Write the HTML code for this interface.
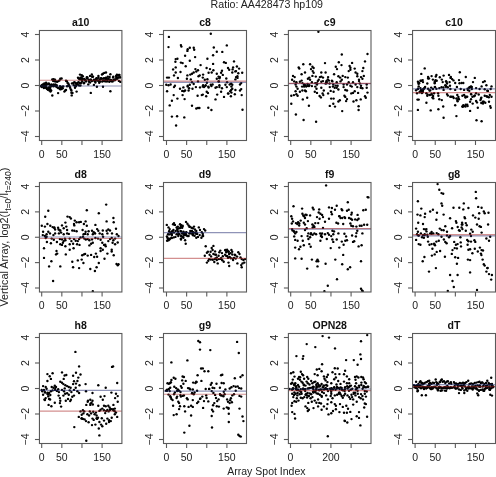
<!DOCTYPE html><html><head><meta charset="utf-8"><style>html,body{margin:0;padding:0;background:#fff;overflow:hidden}svg{display:block;will-change:transform}text{font-family:"Liberation Sans",sans-serif;fill:#222}</style></head><body>
<svg width="496" height="477" viewBox="0 0 496 477">
<rect width="496" height="477" fill="#fff"/>
<text x="266.8" y="7.7" font-size="10.65" text-anchor="middle">Ratio: AA428473 hp109</text>
<text x="266.4" y="474.5" font-size="10.5" text-anchor="middle">Array Spot Index</text>
<text transform="translate(8.2,306.6) rotate(-90)" font-size="10.8">Vertical Array, log2(I<tspan font-size="8.5" dy="3">t=0</tspan><tspan dy="-3">/I</tspan><tspan font-size="8.5" dy="3">t=240</tspan><tspan dy="-3">)</tspan></text>
<text x="80.68" y="25.60" font-size="10.5" font-weight="bold" text-anchor="middle" style="fill:#111">a10</text>
<clipPath id="cp00"><rect x="39.45" y="30.5" width="82.45" height="110.00"/></clipPath><g clip-path="url(#cp00)">
<circle cx="46.1" cy="82.7" r="1.2"/>
<circle cx="44.3" cy="83.5" r="1.2"/>
<circle cx="46.5" cy="83.5" r="1.2"/>
<circle cx="48.8" cy="83.5" r="1.2"/>
<circle cx="42.8" cy="84.4" r="1.2"/>
<circle cx="44.8" cy="84.4" r="1.2"/>
<circle cx="47.0" cy="84.4" r="1.2"/>
<circle cx="49.2" cy="84.4" r="1.2"/>
<circle cx="51.4" cy="84.4" r="1.2"/>
<circle cx="53.6" cy="84.4" r="1.2"/>
<circle cx="55.4" cy="84.4" r="1.2"/>
<circle cx="41.7" cy="85.3" r="1.2"/>
<circle cx="43.7" cy="85.3" r="1.2"/>
<circle cx="45.7" cy="85.3" r="1.2"/>
<circle cx="50.5" cy="85.3" r="1.2"/>
<circle cx="52.7" cy="85.3" r="1.2"/>
<circle cx="55.0" cy="85.3" r="1.2"/>
<circle cx="56.7" cy="85.3" r="1.2"/>
<circle cx="41.0" cy="86.2" r="1.2"/>
<circle cx="43.2" cy="86.2" r="1.2"/>
<circle cx="45.2" cy="86.2" r="1.2"/>
<circle cx="51.4" cy="86.2" r="1.2"/>
<circle cx="53.6" cy="86.2" r="1.2"/>
<circle cx="56.1" cy="86.2" r="1.2"/>
<circle cx="41.9" cy="87.1" r="1.2"/>
<circle cx="44.3" cy="87.1" r="1.2"/>
<circle cx="46.5" cy="87.1" r="1.2"/>
<circle cx="49.2" cy="87.1" r="1.2"/>
<circle cx="56.7" cy="87.1" r="1.2"/>
<circle cx="43.9" cy="88.0" r="1.2"/>
<circle cx="46.1" cy="88.0" r="1.2"/>
<circle cx="48.3" cy="88.0" r="1.2"/>
<circle cx="50.1" cy="88.0" r="1.2"/>
<circle cx="58.1" cy="88.0" r="1.2"/>
<circle cx="60.3" cy="88.0" r="1.2"/>
<circle cx="47.0" cy="88.9" r="1.2"/>
<circle cx="49.6" cy="88.9" r="1.2"/>
<circle cx="59.8" cy="88.9" r="1.2"/>
<circle cx="47.9" cy="89.7" r="1.2"/>
<circle cx="50.5" cy="89.7" r="1.2"/>
<circle cx="49.4" cy="90.6" r="1.2"/>
<circle cx="51.2" cy="90.6" r="1.2"/>
<circle cx="50.5" cy="91.5" r="1.2"/>
<circle cx="52.3" cy="79.5" r="1.2"/>
<circle cx="53.6" cy="79.3" r="1.2"/>
<circle cx="55.0" cy="79.8" r="1.2"/>
<circle cx="53.2" cy="80.9" r="1.2"/>
<circle cx="54.5" cy="81.3" r="1.2"/>
<circle cx="55.9" cy="81.5" r="1.2"/>
<circle cx="57.2" cy="81.8" r="1.2"/>
<circle cx="58.5" cy="81.1" r="1.2"/>
<circle cx="59.4" cy="80.4" r="1.2"/>
<circle cx="60.3" cy="78.7" r="1.2"/>
<circle cx="58.1" cy="93.1" r="1.2"/>
<circle cx="52.3" cy="95.5" r="1.2"/>
<circle cx="61.6" cy="78.5" r="1.2"/>
<circle cx="66.0" cy="80.7" r="1.2"/>
<circle cx="66.8" cy="81.3" r="1.2"/>
<circle cx="67.6" cy="82.9" r="1.2"/>
<circle cx="68.4" cy="83.7" r="1.2"/>
<circle cx="69.0" cy="85.1" r="1.2"/>
<circle cx="68.2" cy="85.6" r="1.2"/>
<circle cx="67.1" cy="86.2" r="1.2"/>
<circle cx="69.5" cy="86.2" r="1.2"/>
<circle cx="70.1" cy="87.8" r="1.2"/>
<circle cx="70.9" cy="89.4" r="1.2"/>
<circle cx="71.4" cy="90.5" r="1.2"/>
<circle cx="65.2" cy="90.5" r="1.2"/>
<circle cx="66.0" cy="90.0" r="1.2"/>
<circle cx="64.4" cy="91.6" r="1.2"/>
<circle cx="71.4" cy="92.7" r="1.2"/>
<circle cx="72.5" cy="93.0" r="1.2"/>
<circle cx="71.7" cy="95.4" r="1.2"/>
<circle cx="76.6" cy="91.6" r="1.2"/>
<circle cx="72.0" cy="83.4" r="1.2"/>
<circle cx="73.4" cy="82.9" r="1.2"/>
<circle cx="74.4" cy="82.1" r="1.2"/>
<circle cx="75.5" cy="82.9" r="1.2"/>
<circle cx="76.3" cy="83.7" r="1.2"/>
<circle cx="77.4" cy="82.9" r="1.2"/>
<circle cx="78.5" cy="82.1" r="1.2"/>
<circle cx="79.6" cy="82.9" r="1.2"/>
<circle cx="80.7" cy="83.4" r="1.2"/>
<circle cx="81.5" cy="82.4" r="1.2"/>
<circle cx="73.6" cy="85.1" r="1.2"/>
<circle cx="74.7" cy="85.6" r="1.2"/>
<circle cx="75.8" cy="86.2" r="1.2"/>
<circle cx="75.0" cy="87.8" r="1.2"/>
<circle cx="76.3" cy="85.1" r="1.2"/>
<circle cx="77.7" cy="84.5" r="1.2"/>
<circle cx="79.1" cy="85.4" r="1.2"/>
<circle cx="80.4" cy="85.6" r="1.2"/>
<circle cx="78.0" cy="77.7" r="1.2"/>
<circle cx="78.8" cy="78.5" r="1.2"/>
<circle cx="79.6" cy="79.4" r="1.2"/>
<circle cx="80.7" cy="79.1" r="1.2"/>
<circle cx="81.5" cy="77.4" r="1.2"/>
<circle cx="81.8" cy="75.3" r="1.2"/>
<circle cx="60.0" cy="86.2" r="1.2"/>
<circle cx="61.1" cy="87.3" r="1.2"/>
<circle cx="62.2" cy="86.7" r="1.2"/>
<circle cx="63.3" cy="86.4" r="1.2"/>
<circle cx="60.5" cy="89.4" r="1.2"/>
<circle cx="61.6" cy="88.9" r="1.2"/>
<circle cx="62.7" cy="88.3" r="1.2"/>
<circle cx="80.0" cy="74.6" r="1.2"/>
<circle cx="80.4" cy="77.7" r="1.2"/>
<circle cx="80.9" cy="78.4" r="1.2"/>
<circle cx="81.3" cy="78.9" r="1.2"/>
<circle cx="81.8" cy="80.0" r="1.2"/>
<circle cx="82.1" cy="78.7" r="1.2"/>
<circle cx="82.3" cy="81.1" r="1.2"/>
<circle cx="82.8" cy="76.2" r="1.2"/>
<circle cx="83.9" cy="83.2" r="1.2"/>
<circle cx="84.1" cy="78.9" r="1.2"/>
<circle cx="84.2" cy="82.7" r="1.2"/>
<circle cx="84.6" cy="80.0" r="1.2"/>
<circle cx="85.1" cy="79.7" r="1.2"/>
<circle cx="85.7" cy="80.3" r="1.2"/>
<circle cx="86.2" cy="81.4" r="1.2"/>
<circle cx="86.8" cy="77.3" r="1.2"/>
<circle cx="87.1" cy="78.3" r="1.2"/>
<circle cx="87.4" cy="77.4" r="1.2"/>
<circle cx="88.3" cy="84.4" r="1.2"/>
<circle cx="88.6" cy="79.6" r="1.2"/>
<circle cx="88.8" cy="80.0" r="1.2"/>
<circle cx="89.0" cy="81.7" r="1.2"/>
<circle cx="90.0" cy="75.9" r="1.2"/>
<circle cx="90.1" cy="82.5" r="1.2"/>
<circle cx="90.9" cy="79.8" r="1.2"/>
<circle cx="90.8" cy="79.6" r="1.2"/>
<circle cx="91.8" cy="74.5" r="1.2"/>
<circle cx="91.9" cy="81.0" r="1.2"/>
<circle cx="92.1" cy="76.8" r="1.2"/>
<circle cx="92.7" cy="76.7" r="1.2"/>
<circle cx="93.0" cy="76.6" r="1.2"/>
<circle cx="93.9" cy="84.9" r="1.2"/>
<circle cx="93.9" cy="79.7" r="1.2"/>
<circle cx="94.3" cy="80.8" r="1.2"/>
<circle cx="95.3" cy="81.1" r="1.2"/>
<circle cx="95.4" cy="82.5" r="1.2"/>
<circle cx="95.7" cy="79.5" r="1.2"/>
<circle cx="96.5" cy="78.4" r="1.2"/>
<circle cx="96.6" cy="78.2" r="1.2"/>
<circle cx="97.1" cy="80.5" r="1.2"/>
<circle cx="98.0" cy="80.4" r="1.2"/>
<circle cx="98.5" cy="77.7" r="1.2"/>
<circle cx="98.4" cy="76.0" r="1.2"/>
<circle cx="99.2" cy="82.7" r="1.2"/>
<circle cx="99.3" cy="81.4" r="1.2"/>
<circle cx="99.8" cy="79.6" r="1.2"/>
<circle cx="100.6" cy="78.7" r="1.2"/>
<circle cx="100.6" cy="81.5" r="1.2"/>
<circle cx="101.0" cy="78.1" r="1.2"/>
<circle cx="101.8" cy="78.8" r="1.2"/>
<circle cx="102.0" cy="74.5" r="1.2"/>
<circle cx="102.5" cy="81.5" r="1.2"/>
<circle cx="103.1" cy="80.7" r="1.2"/>
<circle cx="103.2" cy="78.6" r="1.2"/>
<circle cx="104.2" cy="80.5" r="1.2"/>
<circle cx="104.1" cy="78.1" r="1.2"/>
<circle cx="105.0" cy="81.2" r="1.2"/>
<circle cx="105.6" cy="79.1" r="1.2"/>
<circle cx="105.9" cy="77.7" r="1.2"/>
<circle cx="105.8" cy="78.1" r="1.2"/>
<circle cx="106.3" cy="81.4" r="1.2"/>
<circle cx="107.1" cy="79.3" r="1.2"/>
<circle cx="107.3" cy="81.2" r="1.2"/>
<circle cx="107.8" cy="76.8" r="1.2"/>
<circle cx="108.1" cy="79.5" r="1.2"/>
<circle cx="108.6" cy="78.8" r="1.2"/>
<circle cx="109.3" cy="81.7" r="1.2"/>
<circle cx="109.6" cy="77.0" r="1.2"/>
<circle cx="110.4" cy="79.8" r="1.2"/>
<circle cx="110.4" cy="80.1" r="1.2"/>
<circle cx="111.0" cy="81.1" r="1.2"/>
<circle cx="111.4" cy="80.2" r="1.2"/>
<circle cx="111.9" cy="81.3" r="1.2"/>
<circle cx="112.6" cy="81.4" r="1.2"/>
<circle cx="113.1" cy="77.6" r="1.2"/>
<circle cx="113.3" cy="76.6" r="1.2"/>
<circle cx="113.4" cy="80.1" r="1.2"/>
<circle cx="114.4" cy="79.8" r="1.2"/>
<circle cx="114.7" cy="80.2" r="1.2"/>
<circle cx="115.1" cy="79.6" r="1.2"/>
<circle cx="115.5" cy="79.4" r="1.2"/>
<circle cx="116.3" cy="77.6" r="1.2"/>
<circle cx="116.1" cy="75.9" r="1.2"/>
<circle cx="117.0" cy="78.6" r="1.2"/>
<circle cx="117.4" cy="78.5" r="1.2"/>
<circle cx="118.0" cy="75.5" r="1.2"/>
<circle cx="118.0" cy="77.6" r="1.2"/>
<circle cx="118.8" cy="74.9" r="1.2"/>
<circle cx="118.9" cy="80.9" r="1.2"/>
<circle cx="119.5" cy="75.0" r="1.2"/>
<circle cx="120.0" cy="77.4" r="1.2"/>
<circle cx="120.4" cy="81.9" r="1.2"/>
<circle cx="96.9" cy="86.8" r="1.2"/>
<circle cx="103.0" cy="86.8" r="1.2"/>
<circle cx="90.8" cy="92.9" r="1.2"/>
<circle cx="110.4" cy="91.2" r="1.2"/>
<circle cx="106.0" cy="72.5" r="1.2"/>
<circle cx="104.3" cy="72.9" r="1.2"/>
<circle cx="103.0" cy="73.8" r="1.2"/>
<circle cx="110.4" cy="74.2" r="1.2"/>
<circle cx="116.9" cy="74.7" r="1.2"/>
<circle cx="118.2" cy="75.5" r="1.2"/>
<circle cx="119.9" cy="77.3" r="1.2"/>
<line x1="39.45" x2="121.9" y1="86.01" y2="86.01" stroke="#202870" stroke-opacity="0.5" stroke-width="1.2"/>
<line x1="39.45" x2="121.9" y1="80.27" y2="80.27" stroke="#a82020" stroke-opacity="0.5" stroke-width="1.2"/>
</g>
<rect x="39.45" y="30.5" width="82.45" height="110.00" fill="none" stroke="#5a5a5a" stroke-width="1.1"/>
<line x1="34.95" x2="39.45" y1="34.50" y2="34.50" stroke="#5a5a5a" stroke-width="1.1"/>
<text transform="translate(28.85,34.50) rotate(-90)" font-size="10.5" text-anchor="middle">4</text>
<line x1="34.95" x2="39.45" y1="60.00" y2="60.00" stroke="#5a5a5a" stroke-width="1.1"/>
<text transform="translate(28.85,60.00) rotate(-90)" font-size="10.5" text-anchor="middle">2</text>
<line x1="34.95" x2="39.45" y1="85.50" y2="85.50" stroke="#5a5a5a" stroke-width="1.1"/>
<text transform="translate(28.85,85.50) rotate(-90)" font-size="10.5" text-anchor="middle">0</text>
<line x1="34.95" x2="39.45" y1="111.00" y2="111.00" stroke="#5a5a5a" stroke-width="1.1"/>
<text transform="translate(28.85,111.00) rotate(-90)" font-size="10.5" text-anchor="middle">−2</text>
<line x1="34.95" x2="39.45" y1="136.50" y2="136.50" stroke="#5a5a5a" stroke-width="1.1"/>
<text transform="translate(28.85,136.50) rotate(-90)" font-size="10.5" text-anchor="middle">−4</text>
<line x1="41.70" x2="41.70" y1="140.5" y2="145.00" stroke="#5a5a5a" stroke-width="1.1"/>
<text x="41.70" y="157.70" font-size="10.5" text-anchor="middle">0</text>
<line x1="61.83" x2="61.83" y1="140.5" y2="145.00" stroke="#5a5a5a" stroke-width="1.1"/>
<text x="61.83" y="157.70" font-size="10.5" text-anchor="middle">50</text>
<line x1="81.96" x2="81.96" y1="140.5" y2="145.00" stroke="#5a5a5a" stroke-width="1.1"/>
<line x1="102.09" x2="102.09" y1="140.5" y2="145.00" stroke="#5a5a5a" stroke-width="1.1"/>
<text x="102.09" y="157.70" font-size="10.5" text-anchor="middle">150</text>
<text x="205.00" y="25.60" font-size="10.5" font-weight="bold" text-anchor="middle" style="fill:#111">c8</text>
<clipPath id="cp01"><rect x="163.5" y="30.5" width="83.00" height="110.00"/></clipPath><g clip-path="url(#cp01)">
<circle cx="168.9" cy="36.9" r="1.2"/>
<circle cx="210.8" cy="33.8" r="1.2"/>
<circle cx="168.5" cy="47.1" r="1.2"/>
<circle cx="180.9" cy="45.1" r="1.2"/>
<circle cx="181.4" cy="46.6" r="1.2"/>
<circle cx="187.7" cy="49.2" r="1.2"/>
<circle cx="187.4" cy="50.9" r="1.2"/>
<circle cx="189.8" cy="47.7" r="1.2"/>
<circle cx="193.7" cy="47.7" r="1.2"/>
<circle cx="194.2" cy="49.7" r="1.2"/>
<circle cx="213.8" cy="47.5" r="1.2"/>
<circle cx="226.8" cy="45.4" r="1.2"/>
<circle cx="216.8" cy="51.8" r="1.2"/>
<circle cx="222.3" cy="51.9" r="1.2"/>
<circle cx="213.1" cy="55.2" r="1.2"/>
<circle cx="185.1" cy="55.7" r="1.2"/>
<circle cx="177.4" cy="58.8" r="1.2"/>
<circle cx="175.7" cy="59.1" r="1.2"/>
<circle cx="195.1" cy="57.1" r="1.2"/>
<circle cx="189.8" cy="60.8" r="1.2"/>
<circle cx="207.4" cy="58.8" r="1.2"/>
<circle cx="175.4" cy="61.7" r="1.2"/>
<circle cx="180.9" cy="62.6" r="1.2"/>
<circle cx="182.6" cy="63.1" r="1.2"/>
<circle cx="200.6" cy="65.1" r="1.2"/>
<circle cx="213.1" cy="63.9" r="1.2"/>
<circle cx="224.0" cy="62.2" r="1.2"/>
<circle cx="225.8" cy="62.9" r="1.2"/>
<circle cx="234.0" cy="61.4" r="1.2"/>
<circle cx="185.7" cy="66.3" r="1.2"/>
<circle cx="173.1" cy="69.4" r="1.2"/>
<circle cx="175.7" cy="67.4" r="1.2"/>
<circle cx="206.6" cy="68.0" r="1.2"/>
<circle cx="195.4" cy="69.1" r="1.2"/>
<circle cx="198.0" cy="70.3" r="1.2"/>
<circle cx="196.3" cy="71.5" r="1.2"/>
<circle cx="210.0" cy="69.1" r="1.2"/>
<circle cx="213.4" cy="70.3" r="1.2"/>
<circle cx="222.0" cy="70.8" r="1.2"/>
<circle cx="228.0" cy="68.0" r="1.2"/>
<circle cx="229.2" cy="69.8" r="1.2"/>
<circle cx="233.1" cy="67.4" r="1.2"/>
<circle cx="232.6" cy="69.4" r="1.2"/>
<circle cx="236.9" cy="66.5" r="1.2"/>
<circle cx="239.1" cy="68.6" r="1.2"/>
<circle cx="180.5" cy="72.0" r="1.2"/>
<circle cx="175.7" cy="72.5" r="1.2"/>
<circle cx="193.7" cy="72.5" r="1.2"/>
<circle cx="192.0" cy="73.7" r="1.2"/>
<circle cx="190.3" cy="74.6" r="1.2"/>
<circle cx="199.7" cy="75.4" r="1.2"/>
<circle cx="203.1" cy="74.6" r="1.2"/>
<circle cx="208.6" cy="72.8" r="1.2"/>
<circle cx="211.7" cy="72.5" r="1.2"/>
<circle cx="216.8" cy="73.7" r="1.2"/>
<circle cx="221.1" cy="72.8" r="1.2"/>
<circle cx="222.8" cy="74.9" r="1.2"/>
<circle cx="218.6" cy="76.6" r="1.2"/>
<circle cx="219.9" cy="77.1" r="1.2"/>
<circle cx="232.3" cy="72.5" r="1.2"/>
<circle cx="236.0" cy="71.1" r="1.2"/>
<circle cx="238.3" cy="73.2" r="1.2"/>
<circle cx="242.2" cy="72.8" r="1.2"/>
<circle cx="174.0" cy="75.4" r="1.2"/>
<circle cx="187.4" cy="75.4" r="1.2"/>
<circle cx="198.5" cy="76.3" r="1.2"/>
<circle cx="202.8" cy="77.6" r="1.2"/>
<circle cx="177.9" cy="78.0" r="1.2"/>
<circle cx="167.1" cy="77.6" r="1.2"/>
<circle cx="168.9" cy="77.6" r="1.2"/>
<circle cx="237.4" cy="76.3" r="1.2"/>
<circle cx="236.0" cy="77.1" r="1.2"/>
<circle cx="186.9" cy="78.8" r="1.2"/>
<circle cx="190.8" cy="79.4" r="1.2"/>
<circle cx="204.8" cy="79.7" r="1.2"/>
<circle cx="207.4" cy="79.2" r="1.2"/>
<circle cx="216.8" cy="78.8" r="1.2"/>
<circle cx="219.4" cy="78.3" r="1.2"/>
<circle cx="226.3" cy="78.5" r="1.2"/>
<circle cx="235.4" cy="79.4" r="1.2"/>
<circle cx="166.3" cy="84.8" r="1.2"/>
<circle cx="168.5" cy="85.2" r="1.2"/>
<circle cx="170.6" cy="84.5" r="1.2"/>
<circle cx="174.9" cy="85.7" r="1.2"/>
<circle cx="187.7" cy="85.7" r="1.2"/>
<circle cx="189.8" cy="84.8" r="1.2"/>
<circle cx="192.0" cy="82.3" r="1.2"/>
<circle cx="193.7" cy="84.0" r="1.2"/>
<circle cx="198.0" cy="81.4" r="1.2"/>
<circle cx="203.1" cy="85.2" r="1.2"/>
<circle cx="205.7" cy="85.2" r="1.2"/>
<circle cx="206.9" cy="82.8" r="1.2"/>
<circle cx="210.8" cy="84.8" r="1.2"/>
<circle cx="212.6" cy="84.5" r="1.2"/>
<circle cx="218.6" cy="81.4" r="1.2"/>
<circle cx="219.4" cy="85.2" r="1.2"/>
<circle cx="225.4" cy="84.8" r="1.2"/>
<circle cx="227.1" cy="82.3" r="1.2"/>
<circle cx="229.7" cy="84.5" r="1.2"/>
<circle cx="232.3" cy="84.8" r="1.2"/>
<circle cx="240.0" cy="84.5" r="1.2"/>
<circle cx="241.2" cy="83.1" r="1.2"/>
<circle cx="167.1" cy="91.2" r="1.2"/>
<circle cx="174.0" cy="87.1" r="1.2"/>
<circle cx="180.0" cy="88.8" r="1.2"/>
<circle cx="182.2" cy="90.9" r="1.2"/>
<circle cx="183.9" cy="91.2" r="1.2"/>
<circle cx="185.1" cy="90.5" r="1.2"/>
<circle cx="183.4" cy="87.4" r="1.2"/>
<circle cx="187.7" cy="86.6" r="1.2"/>
<circle cx="189.1" cy="88.3" r="1.2"/>
<circle cx="188.6" cy="90.5" r="1.2"/>
<circle cx="192.5" cy="88.8" r="1.2"/>
<circle cx="195.9" cy="87.1" r="1.2"/>
<circle cx="200.0" cy="87.4" r="1.2"/>
<circle cx="202.8" cy="86.6" r="1.2"/>
<circle cx="204.0" cy="87.1" r="1.2"/>
<circle cx="205.2" cy="86.1" r="1.2"/>
<circle cx="208.3" cy="86.6" r="1.2"/>
<circle cx="211.4" cy="86.1" r="1.2"/>
<circle cx="215.5" cy="87.8" r="1.2"/>
<circle cx="216.8" cy="87.1" r="1.2"/>
<circle cx="219.4" cy="87.1" r="1.2"/>
<circle cx="222.0" cy="88.3" r="1.2"/>
<circle cx="226.8" cy="87.1" r="1.2"/>
<circle cx="231.4" cy="86.6" r="1.2"/>
<circle cx="232.3" cy="88.8" r="1.2"/>
<circle cx="230.2" cy="91.2" r="1.2"/>
<circle cx="231.4" cy="92.6" r="1.2"/>
<circle cx="235.4" cy="90.0" r="1.2"/>
<circle cx="240.0" cy="90.5" r="1.2"/>
<circle cx="241.2" cy="89.1" r="1.2"/>
<circle cx="173.7" cy="95.1" r="1.2"/>
<circle cx="182.6" cy="95.1" r="1.2"/>
<circle cx="197.6" cy="95.7" r="1.2"/>
<circle cx="201.8" cy="95.1" r="1.2"/>
<circle cx="202.8" cy="94.6" r="1.2"/>
<circle cx="207.9" cy="92.9" r="1.2"/>
<circle cx="206.2" cy="96.3" r="1.2"/>
<circle cx="217.2" cy="94.6" r="1.2"/>
<circle cx="221.1" cy="91.7" r="1.2"/>
<circle cx="224.0" cy="96.9" r="1.2"/>
<circle cx="228.0" cy="93.4" r="1.2"/>
<circle cx="230.9" cy="96.3" r="1.2"/>
<circle cx="234.8" cy="94.3" r="1.2"/>
<circle cx="241.7" cy="95.1" r="1.2"/>
<circle cx="171.9" cy="100.8" r="1.2"/>
<circle cx="177.4" cy="98.6" r="1.2"/>
<circle cx="184.6" cy="99.1" r="1.2"/>
<circle cx="215.5" cy="99.4" r="1.2"/>
<circle cx="169.7" cy="105.4" r="1.2"/>
<circle cx="192.0" cy="105.8" r="1.2"/>
<circle cx="196.3" cy="108.5" r="1.2"/>
<circle cx="198.0" cy="108.0" r="1.2"/>
<circle cx="199.4" cy="108.0" r="1.2"/>
<circle cx="208.3" cy="107.7" r="1.2"/>
<circle cx="211.4" cy="110.0" r="1.2"/>
<circle cx="242.5" cy="109.7" r="1.2"/>
<circle cx="171.9" cy="116.6" r="1.2"/>
<circle cx="177.1" cy="116.2" r="1.2"/>
<circle cx="184.3" cy="117.4" r="1.2"/>
<circle cx="176.1" cy="125.5" r="1.2"/>
<circle cx="218.8" cy="81.5" r="1.2"/>
<circle cx="206.7" cy="91.7" r="1.2"/>
<circle cx="228.4" cy="93.6" r="1.2"/>
<circle cx="208.6" cy="87.5" r="1.2"/>
<circle cx="237.5" cy="77.9" r="1.2"/>
<circle cx="235.3" cy="71.4" r="1.2"/>
<circle cx="231.2" cy="89.9" r="1.2"/>
<circle cx="231.1" cy="83.8" r="1.2"/>
<line x1="163.5" x2="246.5" y1="82.31" y2="82.31" stroke="#202870" stroke-opacity="0.5" stroke-width="1.2"/>
<line x1="163.5" x2="246.5" y1="81.20" y2="81.20" stroke="#a82020" stroke-opacity="0.5" stroke-width="1.2"/>
</g>
<rect x="163.5" y="30.5" width="83.00" height="110.00" fill="none" stroke="#5a5a5a" stroke-width="1.1"/>
<line x1="159.00" x2="163.5" y1="34.50" y2="34.50" stroke="#5a5a5a" stroke-width="1.1"/>
<text transform="translate(152.90,34.50) rotate(-90)" font-size="10.5" text-anchor="middle">4</text>
<line x1="159.00" x2="163.5" y1="60.00" y2="60.00" stroke="#5a5a5a" stroke-width="1.1"/>
<text transform="translate(152.90,60.00) rotate(-90)" font-size="10.5" text-anchor="middle">2</text>
<line x1="159.00" x2="163.5" y1="85.50" y2="85.50" stroke="#5a5a5a" stroke-width="1.1"/>
<text transform="translate(152.90,85.50) rotate(-90)" font-size="10.5" text-anchor="middle">0</text>
<line x1="159.00" x2="163.5" y1="111.00" y2="111.00" stroke="#5a5a5a" stroke-width="1.1"/>
<text transform="translate(152.90,111.00) rotate(-90)" font-size="10.5" text-anchor="middle">−2</text>
<line x1="159.00" x2="163.5" y1="136.50" y2="136.50" stroke="#5a5a5a" stroke-width="1.1"/>
<text transform="translate(152.90,136.50) rotate(-90)" font-size="10.5" text-anchor="middle">−4</text>
<line x1="166.50" x2="166.50" y1="140.5" y2="145.00" stroke="#5a5a5a" stroke-width="1.1"/>
<text x="166.50" y="157.70" font-size="10.5" text-anchor="middle">0</text>
<line x1="186.63" x2="186.63" y1="140.5" y2="145.00" stroke="#5a5a5a" stroke-width="1.1"/>
<text x="186.63" y="157.70" font-size="10.5" text-anchor="middle">50</text>
<line x1="206.76" x2="206.76" y1="140.5" y2="145.00" stroke="#5a5a5a" stroke-width="1.1"/>
<line x1="226.89" x2="226.89" y1="140.5" y2="145.00" stroke="#5a5a5a" stroke-width="1.1"/>
<text x="226.89" y="157.70" font-size="10.5" text-anchor="middle">150</text>
<text x="329.70" y="25.60" font-size="10.5" font-weight="bold" text-anchor="middle" style="fill:#111">c9</text>
<clipPath id="cp02"><rect x="288.4" y="30.5" width="82.60" height="110.00"/></clipPath><g clip-path="url(#cp02)">
<circle cx="318.4" cy="31.7" r="1.2"/>
<circle cx="341.8" cy="54.5" r="1.2"/>
<circle cx="367.5" cy="54.0" r="1.2"/>
<circle cx="365.0" cy="61.4" r="1.2"/>
<circle cx="325.0" cy="63.1" r="1.2"/>
<circle cx="338.8" cy="62.2" r="1.2"/>
<circle cx="341.5" cy="65.1" r="1.2"/>
<circle cx="303.3" cy="64.3" r="1.2"/>
<circle cx="310.1" cy="64.3" r="1.2"/>
<circle cx="298.7" cy="67.4" r="1.2"/>
<circle cx="299.3" cy="68.6" r="1.2"/>
<circle cx="312.4" cy="66.8" r="1.2"/>
<circle cx="311.0" cy="69.1" r="1.2"/>
<circle cx="313.6" cy="68.0" r="1.2"/>
<circle cx="335.8" cy="66.8" r="1.2"/>
<circle cx="337.0" cy="69.1" r="1.2"/>
<circle cx="349.6" cy="66.0" r="1.2"/>
<circle cx="350.4" cy="67.7" r="1.2"/>
<circle cx="352.1" cy="62.9" r="1.2"/>
<circle cx="354.7" cy="68.6" r="1.2"/>
<circle cx="363.3" cy="68.0" r="1.2"/>
<circle cx="312.7" cy="71.1" r="1.2"/>
<circle cx="313.6" cy="72.8" r="1.2"/>
<circle cx="301.6" cy="74.2" r="1.2"/>
<circle cx="305.0" cy="72.5" r="1.2"/>
<circle cx="321.3" cy="72.5" r="1.2"/>
<circle cx="325.6" cy="72.5" r="1.2"/>
<circle cx="334.1" cy="74.2" r="1.2"/>
<circle cx="348.7" cy="71.1" r="1.2"/>
<circle cx="350.4" cy="69.8" r="1.2"/>
<circle cx="355.6" cy="72.5" r="1.2"/>
<circle cx="357.3" cy="73.7" r="1.2"/>
<circle cx="362.4" cy="71.1" r="1.2"/>
<circle cx="293.0" cy="75.9" r="1.2"/>
<circle cx="294.7" cy="77.1" r="1.2"/>
<circle cx="312.4" cy="75.9" r="1.2"/>
<circle cx="315.8" cy="76.6" r="1.2"/>
<circle cx="309.3" cy="77.6" r="1.2"/>
<circle cx="307.9" cy="78.8" r="1.2"/>
<circle cx="310.1" cy="79.7" r="1.2"/>
<circle cx="319.9" cy="77.1" r="1.2"/>
<circle cx="321.3" cy="76.6" r="1.2"/>
<circle cx="323.0" cy="77.6" r="1.2"/>
<circle cx="318.7" cy="79.7" r="1.2"/>
<circle cx="317.8" cy="81.1" r="1.2"/>
<circle cx="328.1" cy="77.1" r="1.2"/>
<circle cx="327.8" cy="79.4" r="1.2"/>
<circle cx="329.0" cy="80.6" r="1.2"/>
<circle cx="338.4" cy="76.3" r="1.2"/>
<circle cx="340.1" cy="77.6" r="1.2"/>
<circle cx="341.8" cy="79.7" r="1.2"/>
<circle cx="342.7" cy="75.9" r="1.2"/>
<circle cx="345.3" cy="77.1" r="1.2"/>
<circle cx="347.8" cy="77.6" r="1.2"/>
<circle cx="357.3" cy="76.3" r="1.2"/>
<circle cx="359.0" cy="79.7" r="1.2"/>
<circle cx="361.0" cy="77.1" r="1.2"/>
<circle cx="363.8" cy="75.9" r="1.2"/>
<circle cx="362.4" cy="78.8" r="1.2"/>
<circle cx="292.1" cy="79.7" r="1.2"/>
<circle cx="294.2" cy="81.4" r="1.2"/>
<circle cx="296.4" cy="82.3" r="1.2"/>
<circle cx="295.6" cy="84.5" r="1.2"/>
<circle cx="301.6" cy="80.6" r="1.2"/>
<circle cx="299.9" cy="81.8" r="1.2"/>
<circle cx="302.4" cy="83.1" r="1.2"/>
<circle cx="304.1" cy="84.5" r="1.2"/>
<circle cx="305.5" cy="85.2" r="1.2"/>
<circle cx="307.6" cy="84.0" r="1.2"/>
<circle cx="309.3" cy="85.2" r="1.2"/>
<circle cx="311.9" cy="82.3" r="1.2"/>
<circle cx="315.3" cy="83.1" r="1.2"/>
<circle cx="317.0" cy="84.5" r="1.2"/>
<circle cx="321.3" cy="81.8" r="1.2"/>
<circle cx="323.0" cy="81.1" r="1.2"/>
<circle cx="326.4" cy="82.3" r="1.2"/>
<circle cx="329.5" cy="83.5" r="1.2"/>
<circle cx="332.4" cy="81.4" r="1.2"/>
<circle cx="333.3" cy="84.5" r="1.2"/>
<circle cx="336.7" cy="82.3" r="1.2"/>
<circle cx="337.6" cy="85.7" r="1.2"/>
<circle cx="340.5" cy="81.4" r="1.2"/>
<circle cx="343.6" cy="84.5" r="1.2"/>
<circle cx="348.7" cy="82.3" r="1.2"/>
<circle cx="347.0" cy="84.5" r="1.2"/>
<circle cx="350.4" cy="85.7" r="1.2"/>
<circle cx="353.0" cy="82.3" r="1.2"/>
<circle cx="355.6" cy="84.5" r="1.2"/>
<circle cx="359.0" cy="81.1" r="1.2"/>
<circle cx="359.8" cy="83.5" r="1.2"/>
<circle cx="361.0" cy="85.7" r="1.2"/>
<circle cx="366.7" cy="84.5" r="1.2"/>
<circle cx="296.4" cy="86.6" r="1.2"/>
<circle cx="297.6" cy="88.8" r="1.2"/>
<circle cx="295.6" cy="91.2" r="1.2"/>
<circle cx="299.9" cy="91.7" r="1.2"/>
<circle cx="302.1" cy="86.6" r="1.2"/>
<circle cx="304.1" cy="86.1" r="1.2"/>
<circle cx="306.2" cy="86.6" r="1.2"/>
<circle cx="302.4" cy="90.5" r="1.2"/>
<circle cx="305.0" cy="90.5" r="1.2"/>
<circle cx="305.9" cy="91.2" r="1.2"/>
<circle cx="308.9" cy="86.1" r="1.2"/>
<circle cx="311.9" cy="86.1" r="1.2"/>
<circle cx="315.3" cy="86.6" r="1.2"/>
<circle cx="316.5" cy="88.8" r="1.2"/>
<circle cx="314.8" cy="91.7" r="1.2"/>
<circle cx="317.0" cy="92.9" r="1.2"/>
<circle cx="321.3" cy="87.8" r="1.2"/>
<circle cx="323.8" cy="90.5" r="1.2"/>
<circle cx="322.6" cy="93.4" r="1.2"/>
<circle cx="323.3" cy="95.1" r="1.2"/>
<circle cx="319.6" cy="96.0" r="1.2"/>
<circle cx="320.9" cy="97.4" r="1.2"/>
<circle cx="328.1" cy="93.4" r="1.2"/>
<circle cx="329.8" cy="87.1" r="1.2"/>
<circle cx="332.9" cy="86.6" r="1.2"/>
<circle cx="330.7" cy="90.9" r="1.2"/>
<circle cx="333.6" cy="91.7" r="1.2"/>
<circle cx="336.7" cy="87.8" r="1.2"/>
<circle cx="338.4" cy="89.5" r="1.2"/>
<circle cx="343.6" cy="87.1" r="1.2"/>
<circle cx="345.3" cy="90.0" r="1.2"/>
<circle cx="347.0" cy="90.5" r="1.2"/>
<circle cx="344.4" cy="95.7" r="1.2"/>
<circle cx="345.3" cy="96.9" r="1.2"/>
<circle cx="351.8" cy="86.6" r="1.2"/>
<circle cx="354.7" cy="91.2" r="1.2"/>
<circle cx="351.3" cy="93.4" r="1.2"/>
<circle cx="353.0" cy="92.9" r="1.2"/>
<circle cx="357.3" cy="87.1" r="1.2"/>
<circle cx="358.1" cy="92.9" r="1.2"/>
<circle cx="360.7" cy="87.8" r="1.2"/>
<circle cx="362.4" cy="88.3" r="1.2"/>
<circle cx="366.7" cy="87.8" r="1.2"/>
<circle cx="367.5" cy="92.6" r="1.2"/>
<circle cx="291.3" cy="95.7" r="1.2"/>
<circle cx="293.9" cy="95.1" r="1.2"/>
<circle cx="297.6" cy="95.7" r="1.2"/>
<circle cx="296.4" cy="94.3" r="1.2"/>
<circle cx="302.8" cy="99.4" r="1.2"/>
<circle cx="307.2" cy="97.7" r="1.2"/>
<circle cx="331.2" cy="98.6" r="1.2"/>
<circle cx="333.6" cy="98.6" r="1.2"/>
<circle cx="339.8" cy="100.3" r="1.2"/>
<circle cx="338.4" cy="101.5" r="1.2"/>
<circle cx="347.0" cy="99.1" r="1.2"/>
<circle cx="346.1" cy="101.1" r="1.2"/>
<circle cx="353.5" cy="101.5" r="1.2"/>
<circle cx="356.4" cy="100.3" r="1.2"/>
<circle cx="360.7" cy="99.4" r="1.2"/>
<circle cx="365.0" cy="96.3" r="1.2"/>
<circle cx="365.8" cy="97.7" r="1.2"/>
<circle cx="291.3" cy="103.7" r="1.2"/>
<circle cx="308.9" cy="105.8" r="1.2"/>
<circle cx="329.8" cy="105.9" r="1.2"/>
<circle cx="333.3" cy="103.7" r="1.2"/>
<circle cx="335.0" cy="106.6" r="1.2"/>
<circle cx="342.2" cy="111.1" r="1.2"/>
<circle cx="358.6" cy="106.3" r="1.2"/>
<circle cx="358.6" cy="110.0" r="1.2"/>
<circle cx="295.9" cy="114.5" r="1.2"/>
<circle cx="303.6" cy="120.0" r="1.2"/>
<circle cx="316.1" cy="121.7" r="1.2"/>
<circle cx="334.7" cy="87.8" r="1.2"/>
<circle cx="317.0" cy="83.3" r="1.2"/>
<circle cx="331.9" cy="80.7" r="1.2"/>
<circle cx="326.5" cy="80.9" r="1.2"/>
<circle cx="325.5" cy="83.6" r="1.2"/>
<circle cx="326.6" cy="81.7" r="1.2"/>
<circle cx="326.4" cy="83.3" r="1.2"/>
<circle cx="304.1" cy="86.5" r="1.2"/>
<circle cx="307.7" cy="85.9" r="1.2"/>
<circle cx="335.7" cy="85.6" r="1.2"/>
<line x1="288.4" x2="371.0" y1="83.59" y2="83.59" stroke="#202870" stroke-opacity="0.5" stroke-width="1.2"/>
<line x1="288.4" x2="371.0" y1="83.33" y2="83.33" stroke="#a82020" stroke-opacity="0.5" stroke-width="1.2"/>
</g>
<rect x="288.4" y="30.5" width="82.60" height="110.00" fill="none" stroke="#5a5a5a" stroke-width="1.1"/>
<line x1="283.90" x2="288.4" y1="34.50" y2="34.50" stroke="#5a5a5a" stroke-width="1.1"/>
<text transform="translate(277.80,34.50) rotate(-90)" font-size="10.5" text-anchor="middle">4</text>
<line x1="283.90" x2="288.4" y1="60.00" y2="60.00" stroke="#5a5a5a" stroke-width="1.1"/>
<text transform="translate(277.80,60.00) rotate(-90)" font-size="10.5" text-anchor="middle">2</text>
<line x1="283.90" x2="288.4" y1="85.50" y2="85.50" stroke="#5a5a5a" stroke-width="1.1"/>
<text transform="translate(277.80,85.50) rotate(-90)" font-size="10.5" text-anchor="middle">0</text>
<line x1="283.90" x2="288.4" y1="111.00" y2="111.00" stroke="#5a5a5a" stroke-width="1.1"/>
<text transform="translate(277.80,111.00) rotate(-90)" font-size="10.5" text-anchor="middle">−2</text>
<line x1="283.90" x2="288.4" y1="136.50" y2="136.50" stroke="#5a5a5a" stroke-width="1.1"/>
<text transform="translate(277.80,136.50) rotate(-90)" font-size="10.5" text-anchor="middle">−4</text>
<line x1="290.70" x2="290.70" y1="140.5" y2="145.00" stroke="#5a5a5a" stroke-width="1.1"/>
<text x="290.70" y="157.70" font-size="10.5" text-anchor="middle">0</text>
<line x1="310.83" x2="310.83" y1="140.5" y2="145.00" stroke="#5a5a5a" stroke-width="1.1"/>
<text x="310.83" y="157.70" font-size="10.5" text-anchor="middle">50</text>
<line x1="330.96" x2="330.96" y1="140.5" y2="145.00" stroke="#5a5a5a" stroke-width="1.1"/>
<line x1="351.09" x2="351.09" y1="140.5" y2="145.00" stroke="#5a5a5a" stroke-width="1.1"/>
<text x="351.09" y="157.70" font-size="10.5" text-anchor="middle">150</text>
<text x="454.02" y="25.60" font-size="10.5" font-weight="bold" text-anchor="middle" style="fill:#111">c10</text>
<clipPath id="cp03"><rect x="412.55" y="30.5" width="82.95" height="110.00"/></clipPath><g clip-path="url(#cp03)">
<circle cx="424.7" cy="68.4" r="1.2"/>
<circle cx="459.8" cy="72.2" r="1.2"/>
<circle cx="421.3" cy="73.9" r="1.2"/>
<circle cx="436.4" cy="74.9" r="1.2"/>
<circle cx="431.6" cy="76.1" r="1.2"/>
<circle cx="428.1" cy="77.0" r="1.2"/>
<circle cx="429.0" cy="78.4" r="1.2"/>
<circle cx="439.8" cy="77.3" r="1.2"/>
<circle cx="443.6" cy="75.6" r="1.2"/>
<circle cx="449.0" cy="74.9" r="1.2"/>
<circle cx="450.8" cy="77.0" r="1.2"/>
<circle cx="452.1" cy="79.1" r="1.2"/>
<circle cx="465.8" cy="77.0" r="1.2"/>
<circle cx="474.8" cy="77.9" r="1.2"/>
<circle cx="417.9" cy="81.8" r="1.2"/>
<circle cx="420.4" cy="80.8" r="1.2"/>
<circle cx="422.7" cy="80.1" r="1.2"/>
<circle cx="419.2" cy="83.0" r="1.2"/>
<circle cx="423.0" cy="82.1" r="1.2"/>
<circle cx="427.3" cy="83.5" r="1.2"/>
<circle cx="432.9" cy="79.6" r="1.2"/>
<circle cx="434.7" cy="82.1" r="1.2"/>
<circle cx="436.7" cy="80.8" r="1.2"/>
<circle cx="441.8" cy="79.6" r="1.2"/>
<circle cx="442.7" cy="82.1" r="1.2"/>
<circle cx="446.1" cy="81.3" r="1.2"/>
<circle cx="447.0" cy="83.5" r="1.2"/>
<circle cx="445.3" cy="85.2" r="1.2"/>
<circle cx="449.6" cy="82.1" r="1.2"/>
<circle cx="453.5" cy="80.4" r="1.2"/>
<circle cx="455.2" cy="83.0" r="1.2"/>
<circle cx="459.0" cy="80.1" r="1.2"/>
<circle cx="461.6" cy="83.0" r="1.2"/>
<circle cx="463.3" cy="83.0" r="1.2"/>
<circle cx="473.0" cy="82.1" r="1.2"/>
<circle cx="483.0" cy="82.1" r="1.2"/>
<circle cx="484.7" cy="81.3" r="1.2"/>
<circle cx="471.0" cy="86.4" r="1.2"/>
<circle cx="470.1" cy="86.9" r="1.2"/>
<circle cx="486.4" cy="85.2" r="1.2"/>
<circle cx="491.5" cy="86.4" r="1.2"/>
<circle cx="418.7" cy="86.4" r="1.2"/>
<circle cx="417.9" cy="89.0" r="1.2"/>
<circle cx="420.4" cy="88.1" r="1.2"/>
<circle cx="421.6" cy="89.9" r="1.2"/>
<circle cx="423.9" cy="88.7" r="1.2"/>
<circle cx="423.0" cy="90.7" r="1.2"/>
<circle cx="425.1" cy="86.9" r="1.2"/>
<circle cx="428.1" cy="88.7" r="1.2"/>
<circle cx="431.2" cy="87.6" r="1.2"/>
<circle cx="430.2" cy="90.4" r="1.2"/>
<circle cx="432.9" cy="89.0" r="1.2"/>
<circle cx="435.0" cy="86.9" r="1.2"/>
<circle cx="436.4" cy="88.7" r="1.2"/>
<circle cx="439.3" cy="88.1" r="1.2"/>
<circle cx="441.5" cy="87.3" r="1.2"/>
<circle cx="443.6" cy="89.9" r="1.2"/>
<circle cx="447.8" cy="87.3" r="1.2"/>
<circle cx="450.4" cy="89.0" r="1.2"/>
<circle cx="456.9" cy="86.9" r="1.2"/>
<circle cx="455.2" cy="89.9" r="1.2"/>
<circle cx="460.7" cy="89.0" r="1.2"/>
<circle cx="464.1" cy="89.9" r="1.2"/>
<circle cx="467.6" cy="88.7" r="1.2"/>
<circle cx="469.3" cy="90.7" r="1.2"/>
<circle cx="471.8" cy="89.0" r="1.2"/>
<circle cx="476.1" cy="88.1" r="1.2"/>
<circle cx="479.6" cy="89.0" r="1.2"/>
<circle cx="481.6" cy="86.4" r="1.2"/>
<circle cx="484.7" cy="89.3" r="1.2"/>
<circle cx="487.3" cy="90.7" r="1.2"/>
<circle cx="490.7" cy="89.0" r="1.2"/>
<circle cx="417.0" cy="93.3" r="1.2"/>
<circle cx="419.6" cy="92.4" r="1.2"/>
<circle cx="426.4" cy="93.3" r="1.2"/>
<circle cx="427.3" cy="95.8" r="1.2"/>
<circle cx="429.9" cy="95.0" r="1.2"/>
<circle cx="431.6" cy="93.8" r="1.2"/>
<circle cx="434.1" cy="93.3" r="1.2"/>
<circle cx="432.4" cy="97.6" r="1.2"/>
<circle cx="438.1" cy="93.3" r="1.2"/>
<circle cx="438.4" cy="95.8" r="1.2"/>
<circle cx="447.0" cy="94.1" r="1.2"/>
<circle cx="447.8" cy="95.5" r="1.2"/>
<circle cx="451.3" cy="96.7" r="1.2"/>
<circle cx="453.0" cy="96.7" r="1.2"/>
<circle cx="457.3" cy="95.0" r="1.2"/>
<circle cx="456.4" cy="98.4" r="1.2"/>
<circle cx="459.0" cy="99.3" r="1.2"/>
<circle cx="462.4" cy="95.8" r="1.2"/>
<circle cx="464.1" cy="95.0" r="1.2"/>
<circle cx="465.5" cy="97.6" r="1.2"/>
<circle cx="467.2" cy="96.7" r="1.2"/>
<circle cx="471.0" cy="94.1" r="1.2"/>
<circle cx="472.4" cy="96.7" r="1.2"/>
<circle cx="474.8" cy="95.5" r="1.2"/>
<circle cx="476.1" cy="93.3" r="1.2"/>
<circle cx="478.7" cy="94.5" r="1.2"/>
<circle cx="481.3" cy="97.6" r="1.2"/>
<circle cx="484.7" cy="95.8" r="1.2"/>
<circle cx="487.3" cy="96.7" r="1.2"/>
<circle cx="489.8" cy="95.0" r="1.2"/>
<circle cx="491.5" cy="96.7" r="1.2"/>
<circle cx="417.5" cy="99.6" r="1.2"/>
<circle cx="418.7" cy="99.6" r="1.2"/>
<circle cx="433.3" cy="98.4" r="1.2"/>
<circle cx="439.3" cy="99.3" r="1.2"/>
<circle cx="441.8" cy="100.1" r="1.2"/>
<circle cx="457.3" cy="100.1" r="1.2"/>
<circle cx="471.0" cy="99.3" r="1.2"/>
<circle cx="470.1" cy="101.8" r="1.2"/>
<circle cx="472.7" cy="103.6" r="1.2"/>
<circle cx="476.1" cy="101.0" r="1.2"/>
<circle cx="477.0" cy="102.4" r="1.2"/>
<circle cx="480.4" cy="100.1" r="1.2"/>
<circle cx="481.3" cy="103.0" r="1.2"/>
<circle cx="483.0" cy="103.6" r="1.2"/>
<circle cx="483.8" cy="101.8" r="1.2"/>
<circle cx="489.0" cy="101.8" r="1.2"/>
<circle cx="490.2" cy="106.1" r="1.2"/>
<circle cx="490.7" cy="107.8" r="1.2"/>
<circle cx="426.4" cy="102.7" r="1.2"/>
<circle cx="455.2" cy="105.3" r="1.2"/>
<circle cx="462.4" cy="106.5" r="1.2"/>
<circle cx="464.1" cy="106.1" r="1.2"/>
<circle cx="465.5" cy="106.5" r="1.2"/>
<circle cx="467.6" cy="106.1" r="1.2"/>
<circle cx="470.1" cy="110.9" r="1.2"/>
<circle cx="477.8" cy="107.8" r="1.2"/>
<circle cx="443.2" cy="106.5" r="1.2"/>
<circle cx="438.4" cy="109.2" r="1.2"/>
<circle cx="430.7" cy="110.4" r="1.2"/>
<circle cx="417.9" cy="109.9" r="1.2"/>
<circle cx="443.6" cy="117.8" r="1.2"/>
<circle cx="456.4" cy="116.1" r="1.2"/>
<circle cx="476.5" cy="120.2" r="1.2"/>
<circle cx="481.6" cy="121.2" r="1.2"/>
<circle cx="467.8" cy="90.1" r="1.2"/>
<circle cx="474.1" cy="96.2" r="1.2"/>
<circle cx="421.9" cy="93.1" r="1.2"/>
<circle cx="422.6" cy="92.3" r="1.2"/>
<circle cx="416.1" cy="90.2" r="1.2"/>
<circle cx="428.1" cy="78.6" r="1.2"/>
<circle cx="435.5" cy="80.3" r="1.2"/>
<circle cx="434.7" cy="83.3" r="1.2"/>
<circle cx="488.8" cy="97.3" r="1.2"/>
<circle cx="450.0" cy="85.8" r="1.2"/>
<circle cx="481.0" cy="98.8" r="1.2"/>
<circle cx="424.6" cy="87.9" r="1.2"/>
<circle cx="446.6" cy="82.1" r="1.2"/>
<circle cx="459.5" cy="83.2" r="1.2"/>
<circle cx="471.8" cy="86.9" r="1.2"/>
<circle cx="418.0" cy="88.7" r="1.2"/>
<circle cx="427.7" cy="94.8" r="1.2"/>
<circle cx="433.1" cy="95.9" r="1.2"/>
<circle cx="458.4" cy="96.9" r="1.2"/>
<circle cx="423.3" cy="89.0" r="1.2"/>
<circle cx="487.9" cy="90.9" r="1.2"/>
<circle cx="446.1" cy="86.1" r="1.2"/>
<circle cx="421.3" cy="80.8" r="1.2"/>
<circle cx="419.0" cy="83.2" r="1.2"/>
<circle cx="486.6" cy="96.3" r="1.2"/>
<circle cx="469.2" cy="87.8" r="1.2"/>
<circle cx="435.8" cy="76.5" r="1.2"/>
<circle cx="429.5" cy="90.5" r="1.2"/>
<circle cx="418.5" cy="83.8" r="1.2"/>
<circle cx="471.2" cy="94.3" r="1.2"/>
<circle cx="482.9" cy="101.7" r="1.2"/>
<circle cx="443.4" cy="87.5" r="1.2"/>
<circle cx="465.7" cy="104.7" r="1.2"/>
<circle cx="469.5" cy="87.4" r="1.2"/>
<circle cx="453.7" cy="98.0" r="1.2"/>
<circle cx="420.9" cy="90.3" r="1.2"/>
<circle cx="467.2" cy="104.8" r="1.2"/>
<circle cx="465.4" cy="96.7" r="1.2"/>
<circle cx="434.8" cy="87.1" r="1.2"/>
<circle cx="450.6" cy="77.9" r="1.2"/>
<circle cx="431.6" cy="94.6" r="1.2"/>
<circle cx="485.3" cy="102.8" r="1.2"/>
<circle cx="421.8" cy="90.7" r="1.2"/>
<circle cx="445.9" cy="86.8" r="1.2"/>
<circle cx="458.3" cy="98.9" r="1.2"/>
<circle cx="419.8" cy="91.9" r="1.2"/>
<circle cx="422.0" cy="91.3" r="1.2"/>
<circle cx="450.3" cy="96.8" r="1.2"/>
<circle cx="457.6" cy="101.2" r="1.2"/>
<circle cx="462.8" cy="106.8" r="1.2"/>
<circle cx="482.8" cy="102.9" r="1.2"/>
<circle cx="434.9" cy="81.7" r="1.2"/>
<circle cx="465.9" cy="96.8" r="1.2"/>
<circle cx="463.3" cy="105.2" r="1.2"/>
<line x1="412.55" x2="495.5" y1="88.94" y2="88.94" stroke="#202870" stroke-opacity="0.5" stroke-width="1.2"/>
<line x1="412.55" x2="495.5" y1="92.64" y2="92.64" stroke="#a82020" stroke-opacity="0.5" stroke-width="1.2"/>
</g>
<rect x="412.55" y="30.5" width="82.95" height="110.00" fill="none" stroke="#5a5a5a" stroke-width="1.1"/>
<line x1="408.05" x2="412.55" y1="34.50" y2="34.50" stroke="#5a5a5a" stroke-width="1.1"/>
<text transform="translate(401.95,34.50) rotate(-90)" font-size="10.5" text-anchor="middle">4</text>
<line x1="408.05" x2="412.55" y1="60.00" y2="60.00" stroke="#5a5a5a" stroke-width="1.1"/>
<text transform="translate(401.95,60.00) rotate(-90)" font-size="10.5" text-anchor="middle">2</text>
<line x1="408.05" x2="412.55" y1="85.50" y2="85.50" stroke="#5a5a5a" stroke-width="1.1"/>
<text transform="translate(401.95,85.50) rotate(-90)" font-size="10.5" text-anchor="middle">0</text>
<line x1="408.05" x2="412.55" y1="111.00" y2="111.00" stroke="#5a5a5a" stroke-width="1.1"/>
<text transform="translate(401.95,111.00) rotate(-90)" font-size="10.5" text-anchor="middle">−2</text>
<line x1="408.05" x2="412.55" y1="136.50" y2="136.50" stroke="#5a5a5a" stroke-width="1.1"/>
<text transform="translate(401.95,136.50) rotate(-90)" font-size="10.5" text-anchor="middle">−4</text>
<line x1="415.10" x2="415.10" y1="140.5" y2="145.00" stroke="#5a5a5a" stroke-width="1.1"/>
<text x="415.10" y="157.70" font-size="10.5" text-anchor="middle">0</text>
<line x1="435.23" x2="435.23" y1="140.5" y2="145.00" stroke="#5a5a5a" stroke-width="1.1"/>
<text x="435.23" y="157.70" font-size="10.5" text-anchor="middle">50</text>
<line x1="455.36" x2="455.36" y1="140.5" y2="145.00" stroke="#5a5a5a" stroke-width="1.1"/>
<line x1="475.49" x2="475.49" y1="140.5" y2="145.00" stroke="#5a5a5a" stroke-width="1.1"/>
<text x="475.49" y="157.70" font-size="10.5" text-anchor="middle">150</text>
<text x="80.68" y="177.60" font-size="10.5" font-weight="bold" text-anchor="middle" style="fill:#111">d8</text>
<clipPath id="cp10"><rect x="39.45" y="182.5" width="82.45" height="109.50"/></clipPath><g clip-path="url(#cp10)">
<circle cx="106.2" cy="204.6" r="1.2"/>
<circle cx="48.3" cy="210.8" r="1.2"/>
<circle cx="86.8" cy="210.3" r="1.2"/>
<circle cx="98.8" cy="213.2" r="1.2"/>
<circle cx="45.2" cy="216.8" r="1.2"/>
<circle cx="67.5" cy="216.6" r="1.2"/>
<circle cx="69.7" cy="217.1" r="1.2"/>
<circle cx="70.9" cy="218.5" r="1.2"/>
<circle cx="113.4" cy="218.0" r="1.2"/>
<circle cx="106.6" cy="221.4" r="1.2"/>
<circle cx="74.8" cy="220.6" r="1.2"/>
<circle cx="76.6" cy="222.3" r="1.2"/>
<circle cx="79.1" cy="222.3" r="1.2"/>
<circle cx="80.8" cy="221.9" r="1.2"/>
<circle cx="85.6" cy="221.4" r="1.2"/>
<circle cx="113.7" cy="222.3" r="1.2"/>
<circle cx="65.4" cy="222.6" r="1.2"/>
<circle cx="41.8" cy="225.7" r="1.2"/>
<circle cx="44.9" cy="226.6" r="1.2"/>
<circle cx="47.4" cy="224.0" r="1.2"/>
<circle cx="50.3" cy="225.7" r="1.2"/>
<circle cx="52.6" cy="227.1" r="1.2"/>
<circle cx="54.3" cy="227.4" r="1.2"/>
<circle cx="62.0" cy="225.4" r="1.2"/>
<circle cx="66.3" cy="226.6" r="1.2"/>
<circle cx="63.7" cy="228.3" r="1.2"/>
<circle cx="74.0" cy="224.0" r="1.2"/>
<circle cx="74.3" cy="225.4" r="1.2"/>
<circle cx="83.9" cy="224.0" r="1.2"/>
<circle cx="86.8" cy="225.7" r="1.2"/>
<circle cx="95.4" cy="224.9" r="1.2"/>
<circle cx="116.0" cy="228.8" r="1.2"/>
<circle cx="55.1" cy="229.5" r="1.2"/>
<circle cx="58.6" cy="229.5" r="1.2"/>
<circle cx="60.3" cy="230.5" r="1.2"/>
<circle cx="67.1" cy="230.0" r="1.2"/>
<circle cx="72.3" cy="230.5" r="1.2"/>
<circle cx="74.3" cy="230.8" r="1.2"/>
<circle cx="76.6" cy="231.2" r="1.2"/>
<circle cx="82.6" cy="230.0" r="1.2"/>
<circle cx="85.6" cy="231.7" r="1.2"/>
<circle cx="88.6" cy="231.2" r="1.2"/>
<circle cx="92.0" cy="230.8" r="1.2"/>
<circle cx="93.7" cy="232.2" r="1.2"/>
<circle cx="97.1" cy="229.1" r="1.2"/>
<circle cx="98.3" cy="230.8" r="1.2"/>
<circle cx="102.8" cy="230.5" r="1.2"/>
<circle cx="106.6" cy="230.8" r="1.2"/>
<circle cx="108.3" cy="229.5" r="1.2"/>
<circle cx="110.0" cy="230.5" r="1.2"/>
<circle cx="107.4" cy="233.4" r="1.2"/>
<circle cx="43.1" cy="231.7" r="1.2"/>
<circle cx="48.3" cy="231.7" r="1.2"/>
<circle cx="50.0" cy="233.4" r="1.2"/>
<circle cx="46.6" cy="234.3" r="1.2"/>
<circle cx="44.9" cy="236.0" r="1.2"/>
<circle cx="42.8" cy="235.1" r="1.2"/>
<circle cx="55.1" cy="233.4" r="1.2"/>
<circle cx="53.4" cy="235.1" r="1.2"/>
<circle cx="58.9" cy="233.4" r="1.2"/>
<circle cx="61.1" cy="232.6" r="1.2"/>
<circle cx="63.7" cy="234.3" r="1.2"/>
<circle cx="67.1" cy="233.4" r="1.2"/>
<circle cx="68.8" cy="233.9" r="1.2"/>
<circle cx="85.1" cy="233.9" r="1.2"/>
<circle cx="87.7" cy="234.3" r="1.2"/>
<circle cx="92.8" cy="234.3" r="1.2"/>
<circle cx="94.6" cy="232.9" r="1.2"/>
<circle cx="99.7" cy="233.4" r="1.2"/>
<circle cx="102.3" cy="234.3" r="1.2"/>
<circle cx="112.0" cy="233.4" r="1.2"/>
<circle cx="116.8" cy="234.3" r="1.2"/>
<circle cx="118.5" cy="236.0" r="1.2"/>
<circle cx="46.6" cy="236.8" r="1.2"/>
<circle cx="45.7" cy="238.0" r="1.2"/>
<circle cx="51.7" cy="238.6" r="1.2"/>
<circle cx="53.8" cy="239.8" r="1.2"/>
<circle cx="59.9" cy="239.1" r="1.2"/>
<circle cx="62.0" cy="239.4" r="1.2"/>
<circle cx="63.7" cy="241.1" r="1.2"/>
<circle cx="65.4" cy="240.3" r="1.2"/>
<circle cx="69.7" cy="238.6" r="1.2"/>
<circle cx="71.4" cy="241.1" r="1.2"/>
<circle cx="74.0" cy="239.1" r="1.2"/>
<circle cx="75.7" cy="240.8" r="1.2"/>
<circle cx="79.1" cy="239.1" r="1.2"/>
<circle cx="77.8" cy="241.1" r="1.2"/>
<circle cx="80.5" cy="237.4" r="1.2"/>
<circle cx="82.9" cy="236.8" r="1.2"/>
<circle cx="84.3" cy="238.6" r="1.2"/>
<circle cx="87.7" cy="239.1" r="1.2"/>
<circle cx="89.4" cy="240.3" r="1.2"/>
<circle cx="92.0" cy="239.4" r="1.2"/>
<circle cx="95.4" cy="238.0" r="1.2"/>
<circle cx="98.0" cy="238.6" r="1.2"/>
<circle cx="100.6" cy="239.8" r="1.2"/>
<circle cx="103.1" cy="236.8" r="1.2"/>
<circle cx="110.0" cy="239.1" r="1.2"/>
<circle cx="111.7" cy="238.0" r="1.2"/>
<circle cx="113.4" cy="240.3" r="1.2"/>
<circle cx="115.1" cy="238.6" r="1.2"/>
<circle cx="46.9" cy="242.0" r="1.2"/>
<circle cx="50.9" cy="243.2" r="1.2"/>
<circle cx="56.9" cy="242.0" r="1.2"/>
<circle cx="60.3" cy="244.2" r="1.2"/>
<circle cx="62.0" cy="244.9" r="1.2"/>
<circle cx="62.9" cy="242.8" r="1.2"/>
<circle cx="65.4" cy="246.3" r="1.2"/>
<circle cx="69.7" cy="244.2" r="1.2"/>
<circle cx="73.1" cy="243.7" r="1.2"/>
<circle cx="77.1" cy="244.2" r="1.2"/>
<circle cx="79.5" cy="244.9" r="1.2"/>
<circle cx="89.4" cy="245.4" r="1.2"/>
<circle cx="91.1" cy="243.7" r="1.2"/>
<circle cx="92.8" cy="242.8" r="1.2"/>
<circle cx="102.3" cy="242.8" r="1.2"/>
<circle cx="104.0" cy="244.9" r="1.2"/>
<circle cx="105.7" cy="246.3" r="1.2"/>
<circle cx="108.3" cy="241.1" r="1.2"/>
<circle cx="112.6" cy="242.8" r="1.2"/>
<circle cx="115.1" cy="244.2" r="1.2"/>
<circle cx="117.7" cy="242.5" r="1.2"/>
<circle cx="44.0" cy="248.3" r="1.2"/>
<circle cx="69.7" cy="249.7" r="1.2"/>
<circle cx="73.6" cy="248.3" r="1.2"/>
<circle cx="100.6" cy="248.3" r="1.2"/>
<circle cx="102.8" cy="249.7" r="1.2"/>
<circle cx="111.7" cy="249.7" r="1.2"/>
<circle cx="44.0" cy="257.9" r="1.2"/>
<circle cx="51.4" cy="261.3" r="1.2"/>
<circle cx="56.5" cy="251.0" r="1.2"/>
<circle cx="57.2" cy="253.6" r="1.2"/>
<circle cx="56.0" cy="254.4" r="1.2"/>
<circle cx="65.8" cy="254.4" r="1.2"/>
<circle cx="49.1" cy="266.4" r="1.2"/>
<circle cx="60.3" cy="266.4" r="1.2"/>
<circle cx="53.1" cy="281.0" r="1.2"/>
<circle cx="72.3" cy="261.8" r="1.2"/>
<circle cx="73.1" cy="267.3" r="1.2"/>
<circle cx="77.8" cy="260.4" r="1.2"/>
<circle cx="79.1" cy="268.1" r="1.2"/>
<circle cx="81.7" cy="259.6" r="1.2"/>
<circle cx="83.4" cy="263.0" r="1.2"/>
<circle cx="82.2" cy="255.3" r="1.2"/>
<circle cx="83.9" cy="254.4" r="1.2"/>
<circle cx="85.1" cy="253.9" r="1.2"/>
<circle cx="87.7" cy="255.6" r="1.2"/>
<circle cx="91.1" cy="254.9" r="1.2"/>
<circle cx="94.2" cy="257.0" r="1.2"/>
<circle cx="97.1" cy="256.7" r="1.2"/>
<circle cx="95.9" cy="253.6" r="1.2"/>
<circle cx="98.8" cy="263.0" r="1.2"/>
<circle cx="90.3" cy="269.0" r="1.2"/>
<circle cx="94.9" cy="271.0" r="1.2"/>
<circle cx="96.6" cy="267.3" r="1.2"/>
<circle cx="100.6" cy="251.0" r="1.2"/>
<circle cx="104.5" cy="258.7" r="1.2"/>
<circle cx="107.4" cy="253.6" r="1.2"/>
<circle cx="111.7" cy="251.5" r="1.2"/>
<circle cx="113.7" cy="255.3" r="1.2"/>
<circle cx="116.5" cy="263.9" r="1.2"/>
<circle cx="117.7" cy="265.2" r="1.2"/>
<circle cx="118.5" cy="264.2" r="1.2"/>
<circle cx="92.8" cy="291.3" r="1.2"/>
<circle cx="85.8" cy="239.5" r="1.2"/>
<circle cx="95.1" cy="233.6" r="1.2"/>
<circle cx="105.2" cy="244.6" r="1.2"/>
<circle cx="64.9" cy="238.6" r="1.2"/>
<circle cx="59.8" cy="230.4" r="1.2"/>
<circle cx="54.3" cy="227.9" r="1.2"/>
<circle cx="83.6" cy="234.3" r="1.2"/>
<circle cx="58.1" cy="227.8" r="1.2"/>
<line x1="39.45" x2="121.9" y1="237.00" y2="237.00" stroke="#202870" stroke-opacity="0.5" stroke-width="1.2"/>
<line x1="39.45" x2="121.9" y1="238.52" y2="238.52" stroke="#a82020" stroke-opacity="0.5" stroke-width="1.2"/>
</g>
<rect x="39.45" y="182.5" width="82.45" height="109.50" fill="none" stroke="#5a5a5a" stroke-width="1.1"/>
<line x1="34.95" x2="39.45" y1="186.50" y2="186.50" stroke="#5a5a5a" stroke-width="1.1"/>
<text transform="translate(28.85,186.50) rotate(-90)" font-size="10.5" text-anchor="middle">4</text>
<line x1="34.95" x2="39.45" y1="211.88" y2="211.88" stroke="#5a5a5a" stroke-width="1.1"/>
<text transform="translate(28.85,211.88) rotate(-90)" font-size="10.5" text-anchor="middle">2</text>
<line x1="34.95" x2="39.45" y1="237.25" y2="237.25" stroke="#5a5a5a" stroke-width="1.1"/>
<text transform="translate(28.85,237.25) rotate(-90)" font-size="10.5" text-anchor="middle">0</text>
<line x1="34.95" x2="39.45" y1="262.62" y2="262.62" stroke="#5a5a5a" stroke-width="1.1"/>
<text transform="translate(28.85,262.62) rotate(-90)" font-size="10.5" text-anchor="middle">−2</text>
<line x1="34.95" x2="39.45" y1="288.00" y2="288.00" stroke="#5a5a5a" stroke-width="1.1"/>
<text transform="translate(28.85,288.00) rotate(-90)" font-size="10.5" text-anchor="middle">−4</text>
<line x1="41.70" x2="41.70" y1="292.0" y2="296.50" stroke="#5a5a5a" stroke-width="1.1"/>
<text x="41.70" y="309.20" font-size="10.5" text-anchor="middle">0</text>
<line x1="61.83" x2="61.83" y1="292.0" y2="296.50" stroke="#5a5a5a" stroke-width="1.1"/>
<text x="61.83" y="309.20" font-size="10.5" text-anchor="middle">50</text>
<line x1="81.96" x2="81.96" y1="292.0" y2="296.50" stroke="#5a5a5a" stroke-width="1.1"/>
<line x1="102.09" x2="102.09" y1="292.0" y2="296.50" stroke="#5a5a5a" stroke-width="1.1"/>
<text x="102.09" y="309.20" font-size="10.5" text-anchor="middle">150</text>
<text x="205.00" y="177.60" font-size="10.5" font-weight="bold" text-anchor="middle" style="fill:#111">d9</text>
<clipPath id="cp11"><rect x="163.5" y="182.5" width="83.00" height="109.50"/></clipPath><g clip-path="url(#cp11)">
<circle cx="166.8" cy="224.9" r="1.2"/>
<circle cx="168.5" cy="227.4" r="1.2"/>
<circle cx="169.7" cy="229.1" r="1.2"/>
<circle cx="169.2" cy="231.2" r="1.2"/>
<circle cx="170.6" cy="232.6" r="1.2"/>
<circle cx="168.0" cy="234.3" r="1.2"/>
<circle cx="167.5" cy="237.7" r="1.2"/>
<circle cx="168.5" cy="240.3" r="1.2"/>
<circle cx="169.7" cy="238.6" r="1.2"/>
<circle cx="171.4" cy="237.7" r="1.2"/>
<circle cx="173.7" cy="237.4" r="1.2"/>
<circle cx="175.4" cy="236.9" r="1.2"/>
<circle cx="172.3" cy="231.2" r="1.2"/>
<circle cx="174.0" cy="232.6" r="1.2"/>
<circle cx="175.7" cy="230.9" r="1.2"/>
<circle cx="177.4" cy="230.0" r="1.2"/>
<circle cx="179.1" cy="228.3" r="1.2"/>
<circle cx="177.8" cy="226.6" r="1.2"/>
<circle cx="176.6" cy="227.4" r="1.2"/>
<circle cx="174.0" cy="223.1" r="1.2"/>
<circle cx="174.9" cy="224.9" r="1.2"/>
<circle cx="173.1" cy="224.3" r="1.2"/>
<circle cx="180.0" cy="224.3" r="1.2"/>
<circle cx="180.9" cy="226.6" r="1.2"/>
<circle cx="182.2" cy="227.8" r="1.2"/>
<circle cx="182.6" cy="225.7" r="1.2"/>
<circle cx="180.5" cy="230.9" r="1.2"/>
<circle cx="179.1" cy="233.9" r="1.2"/>
<circle cx="181.2" cy="236.0" r="1.2"/>
<circle cx="180.9" cy="238.6" r="1.2"/>
<circle cx="183.4" cy="237.7" r="1.2"/>
<circle cx="184.3" cy="235.1" r="1.2"/>
<circle cx="182.6" cy="233.4" r="1.2"/>
<circle cx="185.7" cy="234.3" r="1.2"/>
<circle cx="187.4" cy="236.0" r="1.2"/>
<circle cx="186.3" cy="232.6" r="1.2"/>
<circle cx="185.1" cy="240.3" r="1.2"/>
<circle cx="186.0" cy="221.9" r="1.2"/>
<circle cx="187.4" cy="223.7" r="1.2"/>
<circle cx="188.6" cy="225.4" r="1.2"/>
<circle cx="189.8" cy="226.6" r="1.2"/>
<circle cx="191.5" cy="227.8" r="1.2"/>
<circle cx="192.8" cy="228.3" r="1.2"/>
<circle cx="190.3" cy="230.9" r="1.2"/>
<circle cx="192.0" cy="231.2" r="1.2"/>
<circle cx="189.4" cy="233.4" r="1.2"/>
<circle cx="192.5" cy="234.3" r="1.2"/>
<circle cx="194.6" cy="235.7" r="1.2"/>
<circle cx="193.7" cy="232.6" r="1.2"/>
<circle cx="196.3" cy="230.9" r="1.2"/>
<circle cx="194.9" cy="229.5" r="1.2"/>
<circle cx="197.1" cy="233.9" r="1.2"/>
<circle cx="198.0" cy="236.9" r="1.2"/>
<circle cx="199.7" cy="235.1" r="1.2"/>
<circle cx="198.8" cy="227.4" r="1.2"/>
<circle cx="200.0" cy="230.0" r="1.2"/>
<circle cx="201.8" cy="232.2" r="1.2"/>
<circle cx="202.8" cy="233.9" r="1.2"/>
<circle cx="203.1" cy="236.0" r="1.2"/>
<circle cx="204.0" cy="229.1" r="1.2"/>
<circle cx="205.2" cy="230.5" r="1.2"/>
<circle cx="185.7" cy="243.7" r="1.2"/>
<circle cx="167.1" cy="240.8" r="1.2"/>
<circle cx="183.4" cy="231.7" r="1.2"/>
<circle cx="188.6" cy="236.0" r="1.2"/>
<circle cx="178.3" cy="236.0" r="1.2"/>
<circle cx="171.9" cy="235.1" r="1.2"/>
<circle cx="176.6" cy="234.3" r="1.2"/>
<circle cx="196.3" cy="237.7" r="1.2"/>
<circle cx="201.4" cy="237.7" r="1.2"/>
<circle cx="205.7" cy="246.3" r="1.2"/>
<circle cx="206.9" cy="252.8" r="1.2"/>
<circle cx="207.9" cy="251.8" r="1.2"/>
<circle cx="213.4" cy="245.9" r="1.2"/>
<circle cx="211.7" cy="248.0" r="1.2"/>
<circle cx="212.6" cy="250.0" r="1.2"/>
<circle cx="213.4" cy="254.0" r="1.2"/>
<circle cx="209.1" cy="259.1" r="1.2"/>
<circle cx="210.8" cy="259.6" r="1.2"/>
<circle cx="208.3" cy="260.8" r="1.2"/>
<circle cx="206.9" cy="262.6" r="1.2"/>
<circle cx="215.1" cy="251.4" r="1.2"/>
<circle cx="216.0" cy="254.8" r="1.2"/>
<circle cx="214.8" cy="259.1" r="1.2"/>
<circle cx="214.3" cy="262.0" r="1.2"/>
<circle cx="217.7" cy="263.4" r="1.2"/>
<circle cx="216.8" cy="260.0" r="1.2"/>
<circle cx="219.4" cy="252.3" r="1.2"/>
<circle cx="220.3" cy="250.6" r="1.2"/>
<circle cx="222.0" cy="253.1" r="1.2"/>
<circle cx="221.1" cy="258.3" r="1.2"/>
<circle cx="218.9" cy="259.1" r="1.2"/>
<circle cx="222.3" cy="260.3" r="1.2"/>
<circle cx="223.7" cy="261.7" r="1.2"/>
<circle cx="225.4" cy="250.0" r="1.2"/>
<circle cx="226.3" cy="252.3" r="1.2"/>
<circle cx="225.1" cy="254.8" r="1.2"/>
<circle cx="227.1" cy="249.7" r="1.2"/>
<circle cx="228.8" cy="251.8" r="1.2"/>
<circle cx="228.0" cy="257.9" r="1.2"/>
<circle cx="228.5" cy="262.6" r="1.2"/>
<circle cx="229.2" cy="266.0" r="1.2"/>
<circle cx="230.6" cy="253.1" r="1.2"/>
<circle cx="231.4" cy="250.0" r="1.2"/>
<circle cx="232.3" cy="254.5" r="1.2"/>
<circle cx="230.9" cy="258.3" r="1.2"/>
<circle cx="233.1" cy="260.0" r="1.2"/>
<circle cx="234.0" cy="257.9" r="1.2"/>
<circle cx="235.7" cy="258.6" r="1.2"/>
<circle cx="237.4" cy="263.4" r="1.2"/>
<circle cx="237.1" cy="256.6" r="1.2"/>
<circle cx="238.3" cy="252.3" r="1.2"/>
<circle cx="239.5" cy="254.0" r="1.2"/>
<circle cx="240.5" cy="257.4" r="1.2"/>
<circle cx="241.7" cy="259.1" r="1.2"/>
<circle cx="243.4" cy="260.0" r="1.2"/>
<circle cx="242.5" cy="263.4" r="1.2"/>
<circle cx="241.2" cy="265.1" r="1.2"/>
<circle cx="244.3" cy="262.6" r="1.2"/>
<circle cx="245.1" cy="259.1" r="1.2"/>
<circle cx="216.8" cy="257.4" r="1.2"/>
<circle cx="222.8" cy="256.2" r="1.2"/>
<circle cx="229.7" cy="256.9" r="1.2"/>
<circle cx="234.8" cy="254.8" r="1.2"/>
<circle cx="241.7" cy="267.2" r="1.2"/>
<circle cx="204.8" cy="255.7" r="1.2"/>
<circle cx="209.6" cy="254.8" r="1.2"/>
<circle cx="218.6" cy="255.7" r="1.2"/>
<circle cx="180.5" cy="227.9" r="1.2"/>
<circle cx="182.4" cy="226.2" r="1.2"/>
<circle cx="192.4" cy="233.3" r="1.2"/>
<circle cx="177.3" cy="228.9" r="1.2"/>
<circle cx="186.2" cy="235.3" r="1.2"/>
<circle cx="212.8" cy="259.8" r="1.2"/>
<circle cx="191.7" cy="231.0" r="1.2"/>
<circle cx="202.5" cy="236.0" r="1.2"/>
<circle cx="210.6" cy="251.7" r="1.2"/>
<circle cx="172.3" cy="231.5" r="1.2"/>
<circle cx="221.0" cy="258.9" r="1.2"/>
<circle cx="194.0" cy="226.6" r="1.2"/>
<circle cx="181.2" cy="236.1" r="1.2"/>
<circle cx="196.9" cy="233.4" r="1.2"/>
<circle cx="166.9" cy="236.5" r="1.2"/>
<circle cx="171.8" cy="238.0" r="1.2"/>
<circle cx="228.1" cy="251.2" r="1.2"/>
<circle cx="169.6" cy="239.3" r="1.2"/>
<circle cx="182.2" cy="233.4" r="1.2"/>
<circle cx="182.5" cy="237.1" r="1.2"/>
<circle cx="181.2" cy="231.4" r="1.2"/>
<circle cx="167.9" cy="238.7" r="1.2"/>
<circle cx="184.4" cy="234.1" r="1.2"/>
<circle cx="193.1" cy="235.3" r="1.2"/>
<circle cx="169.2" cy="231.4" r="1.2"/>
<circle cx="215.0" cy="254.6" r="1.2"/>
<circle cx="190.1" cy="233.2" r="1.2"/>
<circle cx="225.4" cy="250.3" r="1.2"/>
<circle cx="229.1" cy="254.0" r="1.2"/>
<circle cx="178.1" cy="234.2" r="1.2"/>
<circle cx="227.4" cy="256.3" r="1.2"/>
<circle cx="189.5" cy="226.9" r="1.2"/>
<circle cx="178.1" cy="231.7" r="1.2"/>
<circle cx="179.4" cy="234.3" r="1.2"/>
<circle cx="232.2" cy="251.8" r="1.2"/>
<circle cx="181.0" cy="239.6" r="1.2"/>
<circle cx="193.0" cy="232.3" r="1.2"/>
<circle cx="183.3" cy="233.1" r="1.2"/>
<circle cx="195.0" cy="232.6" r="1.2"/>
<circle cx="184.3" cy="235.1" r="1.2"/>
<circle cx="184.4" cy="232.8" r="1.2"/>
<circle cx="174.7" cy="224.9" r="1.2"/>
<circle cx="182.6" cy="236.6" r="1.2"/>
<circle cx="169.3" cy="234.4" r="1.2"/>
<circle cx="180.9" cy="224.9" r="1.2"/>
<circle cx="215.4" cy="258.4" r="1.2"/>
<circle cx="232.9" cy="258.6" r="1.2"/>
<circle cx="211.1" cy="256.4" r="1.2"/>
<circle cx="186.3" cy="232.3" r="1.2"/>
<circle cx="235.3" cy="255.2" r="1.2"/>
<circle cx="226.3" cy="255.9" r="1.2"/>
<circle cx="196.1" cy="233.8" r="1.2"/>
<circle cx="225.9" cy="250.5" r="1.2"/>
<circle cx="171.5" cy="234.3" r="1.2"/>
<circle cx="171.6" cy="233.4" r="1.2"/>
<circle cx="173.4" cy="229.9" r="1.2"/>
<line x1="163.5" x2="246.5" y1="232.68" y2="232.68" stroke="#202870" stroke-opacity="0.5" stroke-width="1.2"/>
<line x1="163.5" x2="246.5" y1="258.44" y2="258.44" stroke="#a82020" stroke-opacity="0.5" stroke-width="1.2"/>
</g>
<rect x="163.5" y="182.5" width="83.00" height="109.50" fill="none" stroke="#5a5a5a" stroke-width="1.1"/>
<line x1="159.00" x2="163.5" y1="186.50" y2="186.50" stroke="#5a5a5a" stroke-width="1.1"/>
<text transform="translate(152.90,186.50) rotate(-90)" font-size="10.5" text-anchor="middle">4</text>
<line x1="159.00" x2="163.5" y1="211.88" y2="211.88" stroke="#5a5a5a" stroke-width="1.1"/>
<text transform="translate(152.90,211.88) rotate(-90)" font-size="10.5" text-anchor="middle">2</text>
<line x1="159.00" x2="163.5" y1="237.25" y2="237.25" stroke="#5a5a5a" stroke-width="1.1"/>
<text transform="translate(152.90,237.25) rotate(-90)" font-size="10.5" text-anchor="middle">0</text>
<line x1="159.00" x2="163.5" y1="262.62" y2="262.62" stroke="#5a5a5a" stroke-width="1.1"/>
<text transform="translate(152.90,262.62) rotate(-90)" font-size="10.5" text-anchor="middle">−2</text>
<line x1="159.00" x2="163.5" y1="288.00" y2="288.00" stroke="#5a5a5a" stroke-width="1.1"/>
<text transform="translate(152.90,288.00) rotate(-90)" font-size="10.5" text-anchor="middle">−4</text>
<line x1="166.50" x2="166.50" y1="292.0" y2="296.50" stroke="#5a5a5a" stroke-width="1.1"/>
<text x="166.50" y="309.20" font-size="10.5" text-anchor="middle">0</text>
<line x1="186.63" x2="186.63" y1="292.0" y2="296.50" stroke="#5a5a5a" stroke-width="1.1"/>
<text x="186.63" y="309.20" font-size="10.5" text-anchor="middle">50</text>
<line x1="206.76" x2="206.76" y1="292.0" y2="296.50" stroke="#5a5a5a" stroke-width="1.1"/>
<line x1="226.89" x2="226.89" y1="292.0" y2="296.50" stroke="#5a5a5a" stroke-width="1.1"/>
<text x="226.89" y="309.20" font-size="10.5" text-anchor="middle">150</text>
<text x="329.70" y="177.60" font-size="10.5" font-weight="bold" text-anchor="middle" style="fill:#111">f9</text>
<clipPath id="cp12"><rect x="288.4" y="182.5" width="82.60" height="109.50"/></clipPath><g clip-path="url(#cp12)">
<circle cx="326.1" cy="185.4" r="1.2"/>
<circle cx="367.5" cy="197.1" r="1.2"/>
<circle cx="368.4" cy="197.4" r="1.2"/>
<circle cx="347.8" cy="202.2" r="1.2"/>
<circle cx="293.5" cy="206.3" r="1.2"/>
<circle cx="302.1" cy="208.6" r="1.2"/>
<circle cx="312.7" cy="207.7" r="1.2"/>
<circle cx="313.6" cy="209.4" r="1.2"/>
<circle cx="319.2" cy="209.4" r="1.2"/>
<circle cx="329.0" cy="207.4" r="1.2"/>
<circle cx="331.9" cy="208.0" r="1.2"/>
<circle cx="336.7" cy="205.7" r="1.2"/>
<circle cx="335.0" cy="209.8" r="1.2"/>
<circle cx="341.5" cy="209.1" r="1.2"/>
<circle cx="342.2" cy="210.3" r="1.2"/>
<circle cx="347.0" cy="210.8" r="1.2"/>
<circle cx="348.7" cy="209.8" r="1.2"/>
<circle cx="351.8" cy="212.8" r="1.2"/>
<circle cx="351.3" cy="214.6" r="1.2"/>
<circle cx="357.6" cy="214.9" r="1.2"/>
<circle cx="363.3" cy="210.3" r="1.2"/>
<circle cx="365.8" cy="209.8" r="1.2"/>
<circle cx="291.3" cy="216.3" r="1.2"/>
<circle cx="292.1" cy="218.8" r="1.2"/>
<circle cx="293.0" cy="221.4" r="1.2"/>
<circle cx="291.8" cy="223.5" r="1.2"/>
<circle cx="295.9" cy="223.1" r="1.2"/>
<circle cx="297.3" cy="224.0" r="1.2"/>
<circle cx="298.1" cy="222.3" r="1.2"/>
<circle cx="299.3" cy="223.5" r="1.2"/>
<circle cx="300.7" cy="220.6" r="1.2"/>
<circle cx="302.4" cy="213.7" r="1.2"/>
<circle cx="303.3" cy="215.4" r="1.2"/>
<circle cx="304.1" cy="216.3" r="1.2"/>
<circle cx="305.5" cy="214.6" r="1.2"/>
<circle cx="305.0" cy="218.0" r="1.2"/>
<circle cx="303.8" cy="222.8" r="1.2"/>
<circle cx="305.0" cy="224.5" r="1.2"/>
<circle cx="307.9" cy="221.1" r="1.2"/>
<circle cx="310.1" cy="215.4" r="1.2"/>
<circle cx="312.4" cy="224.5" r="1.2"/>
<circle cx="313.6" cy="225.7" r="1.2"/>
<circle cx="314.4" cy="226.9" r="1.2"/>
<circle cx="312.7" cy="227.4" r="1.2"/>
<circle cx="315.3" cy="223.1" r="1.2"/>
<circle cx="318.7" cy="212.5" r="1.2"/>
<circle cx="320.4" cy="213.7" r="1.2"/>
<circle cx="322.1" cy="214.9" r="1.2"/>
<circle cx="323.0" cy="217.1" r="1.2"/>
<circle cx="317.0" cy="217.1" r="1.2"/>
<circle cx="319.6" cy="218.8" r="1.2"/>
<circle cx="318.2" cy="223.1" r="1.2"/>
<circle cx="325.0" cy="221.8" r="1.2"/>
<circle cx="329.0" cy="218.8" r="1.2"/>
<circle cx="331.2" cy="212.0" r="1.2"/>
<circle cx="331.9" cy="214.2" r="1.2"/>
<circle cx="336.4" cy="222.8" r="1.2"/>
<circle cx="338.1" cy="223.5" r="1.2"/>
<circle cx="339.3" cy="216.3" r="1.2"/>
<circle cx="340.5" cy="218.0" r="1.2"/>
<circle cx="342.2" cy="218.0" r="1.2"/>
<circle cx="344.4" cy="217.1" r="1.2"/>
<circle cx="343.2" cy="224.0" r="1.2"/>
<circle cx="349.0" cy="218.0" r="1.2"/>
<circle cx="350.8" cy="218.8" r="1.2"/>
<circle cx="352.1" cy="219.7" r="1.2"/>
<circle cx="350.4" cy="223.5" r="1.2"/>
<circle cx="351.3" cy="225.7" r="1.2"/>
<circle cx="353.0" cy="226.2" r="1.2"/>
<circle cx="355.2" cy="219.4" r="1.2"/>
<circle cx="357.3" cy="220.0" r="1.2"/>
<circle cx="358.6" cy="218.8" r="1.2"/>
<circle cx="359.8" cy="225.7" r="1.2"/>
<circle cx="361.6" cy="225.7" r="1.2"/>
<circle cx="364.1" cy="224.8" r="1.2"/>
<circle cx="367.2" cy="224.8" r="1.2"/>
<circle cx="356.4" cy="226.6" r="1.2"/>
<circle cx="323.0" cy="227.9" r="1.2"/>
<circle cx="292.1" cy="229.1" r="1.2"/>
<circle cx="294.2" cy="231.7" r="1.2"/>
<circle cx="296.4" cy="232.0" r="1.2"/>
<circle cx="295.2" cy="233.4" r="1.2"/>
<circle cx="305.0" cy="230.0" r="1.2"/>
<circle cx="306.7" cy="228.3" r="1.2"/>
<circle cx="308.4" cy="233.4" r="1.2"/>
<circle cx="311.0" cy="233.1" r="1.2"/>
<circle cx="312.7" cy="234.8" r="1.2"/>
<circle cx="314.4" cy="233.4" r="1.2"/>
<circle cx="316.1" cy="234.3" r="1.2"/>
<circle cx="321.3" cy="235.1" r="1.2"/>
<circle cx="322.1" cy="233.4" r="1.2"/>
<circle cx="325.0" cy="234.3" r="1.2"/>
<circle cx="327.8" cy="233.1" r="1.2"/>
<circle cx="329.0" cy="234.8" r="1.2"/>
<circle cx="332.4" cy="230.8" r="1.2"/>
<circle cx="334.1" cy="231.4" r="1.2"/>
<circle cx="333.3" cy="234.3" r="1.2"/>
<circle cx="338.4" cy="233.4" r="1.2"/>
<circle cx="344.4" cy="233.8" r="1.2"/>
<circle cx="352.1" cy="235.5" r="1.2"/>
<circle cx="356.4" cy="233.1" r="1.2"/>
<circle cx="357.3" cy="230.8" r="1.2"/>
<circle cx="362.4" cy="233.4" r="1.2"/>
<circle cx="294.2" cy="236.4" r="1.2"/>
<circle cx="295.2" cy="239.9" r="1.2"/>
<circle cx="297.6" cy="240.7" r="1.2"/>
<circle cx="301.6" cy="236.1" r="1.2"/>
<circle cx="302.8" cy="240.7" r="1.2"/>
<circle cx="307.6" cy="236.1" r="1.2"/>
<circle cx="308.4" cy="239.0" r="1.2"/>
<circle cx="310.1" cy="237.3" r="1.2"/>
<circle cx="320.9" cy="236.1" r="1.2"/>
<circle cx="320.4" cy="240.7" r="1.2"/>
<circle cx="326.8" cy="239.0" r="1.2"/>
<circle cx="331.2" cy="236.1" r="1.2"/>
<circle cx="332.4" cy="239.5" r="1.2"/>
<circle cx="333.3" cy="241.9" r="1.2"/>
<circle cx="336.7" cy="239.5" r="1.2"/>
<circle cx="341.8" cy="241.6" r="1.2"/>
<circle cx="346.1" cy="236.4" r="1.2"/>
<circle cx="345.3" cy="240.7" r="1.2"/>
<circle cx="347.0" cy="240.2" r="1.2"/>
<circle cx="353.0" cy="241.9" r="1.2"/>
<circle cx="354.2" cy="241.2" r="1.2"/>
<circle cx="355.9" cy="236.4" r="1.2"/>
<circle cx="343.6" cy="244.7" r="1.2"/>
<circle cx="295.2" cy="247.6" r="1.2"/>
<circle cx="299.0" cy="249.3" r="1.2"/>
<circle cx="300.4" cy="246.7" r="1.2"/>
<circle cx="303.8" cy="245.3" r="1.2"/>
<circle cx="309.3" cy="244.1" r="1.2"/>
<circle cx="310.7" cy="246.7" r="1.2"/>
<circle cx="330.7" cy="248.1" r="1.2"/>
<circle cx="339.3" cy="247.6" r="1.2"/>
<circle cx="358.6" cy="246.4" r="1.2"/>
<circle cx="361.6" cy="245.3" r="1.2"/>
<circle cx="295.2" cy="258.4" r="1.2"/>
<circle cx="301.6" cy="258.7" r="1.2"/>
<circle cx="311.9" cy="259.6" r="1.2"/>
<circle cx="317.5" cy="259.6" r="1.2"/>
<circle cx="318.2" cy="261.3" r="1.2"/>
<circle cx="317.5" cy="266.4" r="1.2"/>
<circle cx="325.6" cy="263.8" r="1.2"/>
<circle cx="335.3" cy="259.6" r="1.2"/>
<circle cx="343.2" cy="254.9" r="1.2"/>
<circle cx="342.2" cy="264.2" r="1.2"/>
<circle cx="347.8" cy="269.3" r="1.2"/>
<circle cx="350.1" cy="267.3" r="1.2"/>
<circle cx="361.0" cy="261.3" r="1.2"/>
<circle cx="307.2" cy="268.6" r="1.2"/>
<circle cx="337.0" cy="279.3" r="1.2"/>
<circle cx="327.8" cy="285.8" r="1.2"/>
<circle cx="324.4" cy="291.3" r="1.2"/>
<circle cx="361.0" cy="288.7" r="1.2"/>
<circle cx="362.1" cy="290.4" r="1.2"/>
<circle cx="362.7" cy="291.3" r="1.2"/>
<circle cx="292.5" cy="230.4" r="1.2"/>
<circle cx="345.1" cy="218.0" r="1.2"/>
<circle cx="320.1" cy="233.4" r="1.2"/>
<circle cx="310.8" cy="234.2" r="1.2"/>
<circle cx="306.6" cy="215.0" r="1.2"/>
<circle cx="322.0" cy="237.0" r="1.2"/>
<circle cx="316.6" cy="261.3" r="1.2"/>
<circle cx="339.4" cy="216.1" r="1.2"/>
<circle cx="293.8" cy="231.3" r="1.2"/>
<circle cx="299.2" cy="225.5" r="1.2"/>
<line x1="288.4" x2="371.0" y1="229.13" y2="229.13" stroke="#202870" stroke-opacity="0.5" stroke-width="1.2"/>
<line x1="288.4" x2="371.0" y1="228.50" y2="228.50" stroke="#a82020" stroke-opacity="0.5" stroke-width="1.2"/>
</g>
<rect x="288.4" y="182.5" width="82.60" height="109.50" fill="none" stroke="#5a5a5a" stroke-width="1.1"/>
<line x1="283.90" x2="288.4" y1="186.50" y2="186.50" stroke="#5a5a5a" stroke-width="1.1"/>
<text transform="translate(277.80,186.50) rotate(-90)" font-size="10.5" text-anchor="middle">4</text>
<line x1="283.90" x2="288.4" y1="211.88" y2="211.88" stroke="#5a5a5a" stroke-width="1.1"/>
<text transform="translate(277.80,211.88) rotate(-90)" font-size="10.5" text-anchor="middle">2</text>
<line x1="283.90" x2="288.4" y1="237.25" y2="237.25" stroke="#5a5a5a" stroke-width="1.1"/>
<text transform="translate(277.80,237.25) rotate(-90)" font-size="10.5" text-anchor="middle">0</text>
<line x1="283.90" x2="288.4" y1="262.62" y2="262.62" stroke="#5a5a5a" stroke-width="1.1"/>
<text transform="translate(277.80,262.62) rotate(-90)" font-size="10.5" text-anchor="middle">−2</text>
<line x1="283.90" x2="288.4" y1="288.00" y2="288.00" stroke="#5a5a5a" stroke-width="1.1"/>
<text transform="translate(277.80,288.00) rotate(-90)" font-size="10.5" text-anchor="middle">−4</text>
<line x1="290.70" x2="290.70" y1="292.0" y2="296.50" stroke="#5a5a5a" stroke-width="1.1"/>
<text x="290.70" y="309.20" font-size="10.5" text-anchor="middle">0</text>
<line x1="310.83" x2="310.83" y1="292.0" y2="296.50" stroke="#5a5a5a" stroke-width="1.1"/>
<text x="310.83" y="309.20" font-size="10.5" text-anchor="middle">50</text>
<line x1="330.96" x2="330.96" y1="292.0" y2="296.50" stroke="#5a5a5a" stroke-width="1.1"/>
<line x1="351.09" x2="351.09" y1="292.0" y2="296.50" stroke="#5a5a5a" stroke-width="1.1"/>
<text x="351.09" y="309.20" font-size="10.5" text-anchor="middle">150</text>
<text x="454.02" y="177.60" font-size="10.5" font-weight="bold" text-anchor="middle" style="fill:#111">g8</text>
<clipPath id="cp13"><rect x="412.55" y="182.5" width="82.95" height="109.50"/></clipPath><g clip-path="url(#cp13)">
<circle cx="437.6" cy="184.1" r="1.2"/>
<circle cx="439.3" cy="189.7" r="1.2"/>
<circle cx="441.5" cy="193.1" r="1.2"/>
<circle cx="443.2" cy="193.7" r="1.2"/>
<circle cx="475.8" cy="191.9" r="1.2"/>
<circle cx="476.1" cy="198.3" r="1.2"/>
<circle cx="417.9" cy="201.2" r="1.2"/>
<circle cx="441.5" cy="203.4" r="1.2"/>
<circle cx="442.2" cy="205.7" r="1.2"/>
<circle cx="463.8" cy="203.4" r="1.2"/>
<circle cx="421.3" cy="208.6" r="1.2"/>
<circle cx="430.2" cy="211.5" r="1.2"/>
<circle cx="432.9" cy="209.8" r="1.2"/>
<circle cx="437.0" cy="212.8" r="1.2"/>
<circle cx="443.6" cy="214.6" r="1.2"/>
<circle cx="453.5" cy="207.7" r="1.2"/>
<circle cx="459.3" cy="207.7" r="1.2"/>
<circle cx="463.3" cy="209.4" r="1.2"/>
<circle cx="468.4" cy="208.0" r="1.2"/>
<circle cx="478.2" cy="206.9" r="1.2"/>
<circle cx="481.6" cy="207.7" r="1.2"/>
<circle cx="483.8" cy="211.5" r="1.2"/>
<circle cx="484.7" cy="213.2" r="1.2"/>
<circle cx="488.5" cy="212.8" r="1.2"/>
<circle cx="479.2" cy="213.2" r="1.2"/>
<circle cx="417.5" cy="214.6" r="1.2"/>
<circle cx="420.4" cy="215.4" r="1.2"/>
<circle cx="425.1" cy="213.7" r="1.2"/>
<circle cx="424.7" cy="217.1" r="1.2"/>
<circle cx="473.0" cy="215.4" r="1.2"/>
<circle cx="475.3" cy="217.6" r="1.2"/>
<circle cx="478.7" cy="218.8" r="1.2"/>
<circle cx="464.5" cy="217.1" r="1.2"/>
<circle cx="465.0" cy="218.3" r="1.2"/>
<circle cx="450.1" cy="218.3" r="1.2"/>
<circle cx="436.4" cy="219.7" r="1.2"/>
<circle cx="418.2" cy="222.8" r="1.2"/>
<circle cx="423.0" cy="224.0" r="1.2"/>
<circle cx="455.9" cy="221.1" r="1.2"/>
<circle cx="456.4" cy="222.8" r="1.2"/>
<circle cx="462.1" cy="222.8" r="1.2"/>
<circle cx="462.4" cy="224.5" r="1.2"/>
<circle cx="465.8" cy="223.1" r="1.2"/>
<circle cx="466.7" cy="225.2" r="1.2"/>
<circle cx="477.0" cy="224.5" r="1.2"/>
<circle cx="479.6" cy="226.2" r="1.2"/>
<circle cx="480.9" cy="226.9" r="1.2"/>
<circle cx="488.1" cy="224.5" r="1.2"/>
<circle cx="445.3" cy="226.2" r="1.2"/>
<circle cx="452.1" cy="228.3" r="1.2"/>
<circle cx="416.1" cy="228.6" r="1.2"/>
<circle cx="423.9" cy="229.1" r="1.2"/>
<circle cx="425.6" cy="229.6" r="1.2"/>
<circle cx="439.8" cy="228.6" r="1.2"/>
<circle cx="441.5" cy="230.0" r="1.2"/>
<circle cx="443.6" cy="230.3" r="1.2"/>
<circle cx="461.6" cy="227.4" r="1.2"/>
<circle cx="462.4" cy="229.1" r="1.2"/>
<circle cx="459.8" cy="230.8" r="1.2"/>
<circle cx="459.0" cy="230.3" r="1.2"/>
<circle cx="465.8" cy="230.8" r="1.2"/>
<circle cx="471.3" cy="229.6" r="1.2"/>
<circle cx="472.7" cy="231.7" r="1.2"/>
<circle cx="481.6" cy="232.6" r="1.2"/>
<circle cx="447.0" cy="231.7" r="1.2"/>
<circle cx="417.9" cy="231.7" r="1.2"/>
<circle cx="417.0" cy="234.3" r="1.2"/>
<circle cx="418.7" cy="235.5" r="1.2"/>
<circle cx="420.9" cy="233.4" r="1.2"/>
<circle cx="423.0" cy="235.1" r="1.2"/>
<circle cx="424.7" cy="234.3" r="1.2"/>
<circle cx="427.3" cy="234.8" r="1.2"/>
<circle cx="430.2" cy="233.4" r="1.2"/>
<circle cx="431.6" cy="232.0" r="1.2"/>
<circle cx="433.3" cy="233.4" r="1.2"/>
<circle cx="436.7" cy="233.1" r="1.2"/>
<circle cx="438.4" cy="234.3" r="1.2"/>
<circle cx="447.0" cy="235.5" r="1.2"/>
<circle cx="450.1" cy="236.0" r="1.2"/>
<circle cx="470.1" cy="233.8" r="1.2"/>
<circle cx="471.0" cy="236.0" r="1.2"/>
<circle cx="416.1" cy="239.9" r="1.2"/>
<circle cx="418.7" cy="244.1" r="1.2"/>
<circle cx="420.4" cy="244.7" r="1.2"/>
<circle cx="422.1" cy="237.3" r="1.2"/>
<circle cx="423.9" cy="237.8" r="1.2"/>
<circle cx="427.8" cy="236.8" r="1.2"/>
<circle cx="428.1" cy="241.6" r="1.2"/>
<circle cx="429.5" cy="244.7" r="1.2"/>
<circle cx="431.6" cy="244.1" r="1.2"/>
<circle cx="432.4" cy="248.8" r="1.2"/>
<circle cx="434.1" cy="243.6" r="1.2"/>
<circle cx="435.0" cy="245.3" r="1.2"/>
<circle cx="436.4" cy="241.6" r="1.2"/>
<circle cx="438.8" cy="240.7" r="1.2"/>
<circle cx="440.1" cy="251.0" r="1.2"/>
<circle cx="436.7" cy="251.9" r="1.2"/>
<circle cx="434.7" cy="254.4" r="1.2"/>
<circle cx="431.9" cy="255.6" r="1.2"/>
<circle cx="441.5" cy="236.8" r="1.2"/>
<circle cx="443.9" cy="239.5" r="1.2"/>
<circle cx="445.3" cy="241.9" r="1.2"/>
<circle cx="446.6" cy="243.3" r="1.2"/>
<circle cx="449.0" cy="237.3" r="1.2"/>
<circle cx="452.5" cy="250.1" r="1.2"/>
<circle cx="451.8" cy="253.9" r="1.2"/>
<circle cx="454.2" cy="241.9" r="1.2"/>
<circle cx="455.9" cy="244.7" r="1.2"/>
<circle cx="457.6" cy="244.1" r="1.2"/>
<circle cx="454.7" cy="248.1" r="1.2"/>
<circle cx="456.9" cy="248.4" r="1.2"/>
<circle cx="460.4" cy="237.3" r="1.2"/>
<circle cx="460.7" cy="242.4" r="1.2"/>
<circle cx="461.0" cy="246.4" r="1.2"/>
<circle cx="467.2" cy="239.9" r="1.2"/>
<circle cx="468.4" cy="241.2" r="1.2"/>
<circle cx="471.0" cy="241.6" r="1.2"/>
<circle cx="467.6" cy="244.7" r="1.2"/>
<circle cx="470.1" cy="249.3" r="1.2"/>
<circle cx="468.4" cy="249.8" r="1.2"/>
<circle cx="474.4" cy="240.2" r="1.2"/>
<circle cx="475.3" cy="241.9" r="1.2"/>
<circle cx="474.8" cy="248.8" r="1.2"/>
<circle cx="472.4" cy="253.2" r="1.2"/>
<circle cx="477.8" cy="251.5" r="1.2"/>
<circle cx="479.9" cy="247.6" r="1.2"/>
<circle cx="481.6" cy="250.1" r="1.2"/>
<circle cx="483.0" cy="250.5" r="1.2"/>
<circle cx="480.9" cy="253.6" r="1.2"/>
<circle cx="486.4" cy="238.5" r="1.2"/>
<circle cx="489.0" cy="240.7" r="1.2"/>
<circle cx="490.2" cy="236.8" r="1.2"/>
<circle cx="444.9" cy="256.7" r="1.2"/>
<circle cx="455.2" cy="257.3" r="1.2"/>
<circle cx="458.1" cy="257.9" r="1.2"/>
<circle cx="467.9" cy="259.6" r="1.2"/>
<circle cx="470.1" cy="260.1" r="1.2"/>
<circle cx="456.9" cy="263.8" r="1.2"/>
<circle cx="424.4" cy="257.0" r="1.2"/>
<circle cx="422.7" cy="261.3" r="1.2"/>
<circle cx="435.9" cy="268.1" r="1.2"/>
<circle cx="429.0" cy="271.6" r="1.2"/>
<circle cx="450.1" cy="275.0" r="1.2"/>
<circle cx="457.6" cy="275.0" r="1.2"/>
<circle cx="452.5" cy="281.0" r="1.2"/>
<circle cx="453.8" cy="287.0" r="1.2"/>
<circle cx="447.8" cy="290.9" r="1.2"/>
<circle cx="470.1" cy="272.4" r="1.2"/>
<circle cx="482.6" cy="259.6" r="1.2"/>
<circle cx="483.8" cy="264.2" r="1.2"/>
<circle cx="484.7" cy="265.6" r="1.2"/>
<circle cx="487.3" cy="268.1" r="1.2"/>
<circle cx="486.4" cy="271.6" r="1.2"/>
<circle cx="489.0" cy="274.1" r="1.2"/>
<circle cx="491.9" cy="275.0" r="1.2"/>
<circle cx="491.2" cy="279.6" r="1.2"/>
<circle cx="477.0" cy="289.9" r="1.2"/>
<circle cx="418.5" cy="235.4" r="1.2"/>
<circle cx="461.8" cy="224.6" r="1.2"/>
<circle cx="434.4" cy="244.4" r="1.2"/>
<circle cx="431.6" cy="233.7" r="1.2"/>
<circle cx="426.4" cy="229.1" r="1.2"/>
<circle cx="487.6" cy="268.0" r="1.2"/>
<circle cx="426.5" cy="231.4" r="1.2"/>
<circle cx="424.6" cy="235.1" r="1.2"/>
<circle cx="481.4" cy="255.1" r="1.2"/>
<circle cx="457.7" cy="227.0" r="1.2"/>
<line x1="412.55" x2="495.5" y1="235.91" y2="235.91" stroke="#202870" stroke-opacity="0.5" stroke-width="1.2"/>
<line x1="412.55" x2="495.5" y1="234.59" y2="234.59" stroke="#a82020" stroke-opacity="0.5" stroke-width="1.2"/>
</g>
<rect x="412.55" y="182.5" width="82.95" height="109.50" fill="none" stroke="#5a5a5a" stroke-width="1.1"/>
<line x1="408.05" x2="412.55" y1="186.50" y2="186.50" stroke="#5a5a5a" stroke-width="1.1"/>
<text transform="translate(401.95,186.50) rotate(-90)" font-size="10.5" text-anchor="middle">4</text>
<line x1="408.05" x2="412.55" y1="211.88" y2="211.88" stroke="#5a5a5a" stroke-width="1.1"/>
<text transform="translate(401.95,211.88) rotate(-90)" font-size="10.5" text-anchor="middle">2</text>
<line x1="408.05" x2="412.55" y1="237.25" y2="237.25" stroke="#5a5a5a" stroke-width="1.1"/>
<text transform="translate(401.95,237.25) rotate(-90)" font-size="10.5" text-anchor="middle">0</text>
<line x1="408.05" x2="412.55" y1="262.62" y2="262.62" stroke="#5a5a5a" stroke-width="1.1"/>
<text transform="translate(401.95,262.62) rotate(-90)" font-size="10.5" text-anchor="middle">−2</text>
<line x1="408.05" x2="412.55" y1="288.00" y2="288.00" stroke="#5a5a5a" stroke-width="1.1"/>
<text transform="translate(401.95,288.00) rotate(-90)" font-size="10.5" text-anchor="middle">−4</text>
<line x1="415.10" x2="415.10" y1="292.0" y2="296.50" stroke="#5a5a5a" stroke-width="1.1"/>
<text x="415.10" y="309.20" font-size="10.5" text-anchor="middle">0</text>
<line x1="435.23" x2="435.23" y1="292.0" y2="296.50" stroke="#5a5a5a" stroke-width="1.1"/>
<text x="435.23" y="309.20" font-size="10.5" text-anchor="middle">50</text>
<line x1="455.36" x2="455.36" y1="292.0" y2="296.50" stroke="#5a5a5a" stroke-width="1.1"/>
<line x1="475.49" x2="475.49" y1="292.0" y2="296.50" stroke="#5a5a5a" stroke-width="1.1"/>
<text x="475.49" y="309.20" font-size="10.5" text-anchor="middle">150</text>
<text x="80.68" y="328.60" font-size="10.5" font-weight="bold" text-anchor="middle" style="fill:#111">h8</text>
<clipPath id="cp20"><rect x="39.45" y="333.5" width="82.45" height="110.00"/></clipPath><g clip-path="url(#cp20)">
<circle cx="75.4" cy="351.9" r="1.2"/>
<circle cx="79.1" cy="366.4" r="1.2"/>
<circle cx="112.0" cy="366.9" r="1.2"/>
<circle cx="113.1" cy="366.4" r="1.2"/>
<circle cx="47.4" cy="374.1" r="1.2"/>
<circle cx="49.7" cy="376.2" r="1.2"/>
<circle cx="52.6" cy="373.3" r="1.2"/>
<circle cx="62.0" cy="372.4" r="1.2"/>
<circle cx="64.6" cy="375.5" r="1.2"/>
<circle cx="66.3" cy="375.0" r="1.2"/>
<circle cx="73.1" cy="375.8" r="1.2"/>
<circle cx="76.0" cy="372.8" r="1.2"/>
<circle cx="80.5" cy="374.5" r="1.2"/>
<circle cx="50.9" cy="378.9" r="1.2"/>
<circle cx="47.4" cy="381.0" r="1.2"/>
<circle cx="63.7" cy="378.9" r="1.2"/>
<circle cx="78.3" cy="377.6" r="1.2"/>
<circle cx="77.4" cy="381.0" r="1.2"/>
<circle cx="74.0" cy="381.3" r="1.2"/>
<circle cx="76.0" cy="383.6" r="1.2"/>
<circle cx="73.1" cy="384.1" r="1.2"/>
<circle cx="60.3" cy="381.8" r="1.2"/>
<circle cx="62.0" cy="382.7" r="1.2"/>
<circle cx="63.4" cy="384.1" r="1.2"/>
<circle cx="65.4" cy="385.3" r="1.2"/>
<circle cx="67.1" cy="386.1" r="1.2"/>
<circle cx="68.8" cy="387.0" r="1.2"/>
<circle cx="70.6" cy="387.8" r="1.2"/>
<circle cx="85.6" cy="384.1" r="1.2"/>
<circle cx="79.5" cy="385.3" r="1.2"/>
<circle cx="98.3" cy="385.3" r="1.2"/>
<circle cx="117.2" cy="383.0" r="1.2"/>
<circle cx="105.7" cy="387.8" r="1.2"/>
<circle cx="43.1" cy="386.1" r="1.2"/>
<circle cx="45.7" cy="387.0" r="1.2"/>
<circle cx="46.6" cy="388.7" r="1.2"/>
<circle cx="44.0" cy="389.9" r="1.2"/>
<circle cx="42.3" cy="391.3" r="1.2"/>
<circle cx="44.9" cy="392.1" r="1.2"/>
<circle cx="43.1" cy="394.7" r="1.2"/>
<circle cx="47.4" cy="393.8" r="1.2"/>
<circle cx="51.7" cy="387.0" r="1.2"/>
<circle cx="53.4" cy="387.8" r="1.2"/>
<circle cx="54.8" cy="385.8" r="1.2"/>
<circle cx="56.0" cy="387.0" r="1.2"/>
<circle cx="55.1" cy="389.9" r="1.2"/>
<circle cx="56.9" cy="390.9" r="1.2"/>
<circle cx="58.2" cy="389.2" r="1.2"/>
<circle cx="58.9" cy="392.1" r="1.2"/>
<circle cx="52.6" cy="390.4" r="1.2"/>
<circle cx="50.9" cy="391.3" r="1.2"/>
<circle cx="49.1" cy="393.0" r="1.2"/>
<circle cx="50.3" cy="395.0" r="1.2"/>
<circle cx="48.3" cy="396.4" r="1.2"/>
<circle cx="49.1" cy="399.0" r="1.2"/>
<circle cx="45.7" cy="398.1" r="1.2"/>
<circle cx="44.5" cy="399.5" r="1.2"/>
<circle cx="62.0" cy="389.9" r="1.2"/>
<circle cx="64.0" cy="391.3" r="1.2"/>
<circle cx="65.1" cy="393.8" r="1.2"/>
<circle cx="67.1" cy="393.3" r="1.2"/>
<circle cx="68.8" cy="394.7" r="1.2"/>
<circle cx="63.4" cy="395.6" r="1.2"/>
<circle cx="69.7" cy="390.4" r="1.2"/>
<circle cx="71.4" cy="392.1" r="1.2"/>
<circle cx="74.0" cy="389.9" r="1.2"/>
<circle cx="75.7" cy="387.8" r="1.2"/>
<circle cx="77.4" cy="391.3" r="1.2"/>
<circle cx="79.1" cy="393.0" r="1.2"/>
<circle cx="74.0" cy="395.6" r="1.2"/>
<circle cx="72.3" cy="396.8" r="1.2"/>
<circle cx="70.9" cy="399.8" r="1.2"/>
<circle cx="68.0" cy="399.0" r="1.2"/>
<circle cx="65.8" cy="400.7" r="1.2"/>
<circle cx="58.6" cy="395.6" r="1.2"/>
<circle cx="59.9" cy="398.1" r="1.2"/>
<circle cx="60.3" cy="400.7" r="1.2"/>
<circle cx="86.0" cy="391.3" r="1.2"/>
<circle cx="92.5" cy="393.0" r="1.2"/>
<circle cx="100.6" cy="396.8" r="1.2"/>
<circle cx="104.5" cy="396.1" r="1.2"/>
<circle cx="102.8" cy="399.8" r="1.2"/>
<circle cx="111.4" cy="392.6" r="1.2"/>
<circle cx="116.0" cy="393.8" r="1.2"/>
<circle cx="117.7" cy="396.1" r="1.2"/>
<circle cx="115.1" cy="398.1" r="1.2"/>
<circle cx="88.0" cy="400.7" r="1.2"/>
<circle cx="90.3" cy="399.8" r="1.2"/>
<circle cx="92.5" cy="400.7" r="1.2"/>
<circle cx="48.6" cy="404.9" r="1.2"/>
<circle cx="51.4" cy="406.2" r="1.2"/>
<circle cx="54.8" cy="402.8" r="1.2"/>
<circle cx="59.9" cy="403.1" r="1.2"/>
<circle cx="61.1" cy="406.6" r="1.2"/>
<circle cx="70.2" cy="401.1" r="1.2"/>
<circle cx="87.7" cy="401.8" r="1.2"/>
<circle cx="91.5" cy="402.8" r="1.2"/>
<circle cx="92.8" cy="404.5" r="1.2"/>
<circle cx="90.3" cy="404.9" r="1.2"/>
<circle cx="86.3" cy="404.9" r="1.2"/>
<circle cx="98.3" cy="405.7" r="1.2"/>
<circle cx="104.0" cy="405.7" r="1.2"/>
<circle cx="105.7" cy="406.2" r="1.2"/>
<circle cx="108.3" cy="405.7" r="1.2"/>
<circle cx="109.6" cy="407.4" r="1.2"/>
<circle cx="113.4" cy="404.9" r="1.2"/>
<circle cx="114.8" cy="408.6" r="1.2"/>
<circle cx="117.7" cy="401.8" r="1.2"/>
<circle cx="80.5" cy="411.4" r="1.2"/>
<circle cx="82.9" cy="410.3" r="1.2"/>
<circle cx="84.3" cy="411.4" r="1.2"/>
<circle cx="83.4" cy="413.4" r="1.2"/>
<circle cx="81.7" cy="414.8" r="1.2"/>
<circle cx="78.8" cy="416.9" r="1.2"/>
<circle cx="81.7" cy="418.2" r="1.2"/>
<circle cx="82.9" cy="418.9" r="1.2"/>
<circle cx="84.6" cy="419.4" r="1.2"/>
<circle cx="87.4" cy="414.3" r="1.2"/>
<circle cx="89.1" cy="415.5" r="1.2"/>
<circle cx="91.1" cy="413.4" r="1.2"/>
<circle cx="89.8" cy="411.4" r="1.2"/>
<circle cx="93.2" cy="411.7" r="1.2"/>
<circle cx="94.6" cy="414.3" r="1.2"/>
<circle cx="95.9" cy="412.6" r="1.2"/>
<circle cx="96.6" cy="415.5" r="1.2"/>
<circle cx="98.0" cy="417.7" r="1.2"/>
<circle cx="99.4" cy="410.9" r="1.2"/>
<circle cx="100.6" cy="409.7" r="1.2"/>
<circle cx="102.3" cy="408.6" r="1.2"/>
<circle cx="104.0" cy="410.3" r="1.2"/>
<circle cx="105.2" cy="413.1" r="1.2"/>
<circle cx="106.2" cy="410.9" r="1.2"/>
<circle cx="107.4" cy="410.0" r="1.2"/>
<circle cx="108.6" cy="411.4" r="1.2"/>
<circle cx="110.0" cy="410.0" r="1.2"/>
<circle cx="111.4" cy="409.1" r="1.2"/>
<circle cx="113.4" cy="410.3" r="1.2"/>
<circle cx="114.8" cy="414.3" r="1.2"/>
<circle cx="116.0" cy="412.6" r="1.2"/>
<circle cx="117.2" cy="416.9" r="1.2"/>
<circle cx="92.5" cy="418.6" r="1.2"/>
<circle cx="93.7" cy="419.9" r="1.2"/>
<circle cx="97.1" cy="418.9" r="1.2"/>
<circle cx="101.8" cy="418.2" r="1.2"/>
<circle cx="104.0" cy="420.6" r="1.2"/>
<circle cx="107.4" cy="418.6" r="1.2"/>
<circle cx="109.1" cy="420.3" r="1.2"/>
<circle cx="110.8" cy="421.1" r="1.2"/>
<circle cx="111.7" cy="417.7" r="1.2"/>
<circle cx="86.0" cy="421.1" r="1.2"/>
<circle cx="88.6" cy="422.3" r="1.2"/>
<circle cx="92.0" cy="425.1" r="1.2"/>
<circle cx="95.4" cy="424.6" r="1.2"/>
<circle cx="99.4" cy="422.0" r="1.2"/>
<circle cx="101.1" cy="424.6" r="1.2"/>
<circle cx="102.3" cy="426.3" r="1.2"/>
<circle cx="106.2" cy="423.7" r="1.2"/>
<circle cx="74.3" cy="427.1" r="1.2"/>
<circle cx="98.8" cy="428.5" r="1.2"/>
<circle cx="99.4" cy="435.4" r="1.2"/>
<circle cx="86.3" cy="440.8" r="1.2"/>
<circle cx="81.6" cy="418.6" r="1.2"/>
<circle cx="114.7" cy="411.3" r="1.2"/>
<circle cx="44.9" cy="400.0" r="1.2"/>
<circle cx="109.0" cy="422.0" r="1.2"/>
<circle cx="47.6" cy="392.6" r="1.2"/>
<circle cx="48.0" cy="394.5" r="1.2"/>
<circle cx="110.3" cy="409.1" r="1.2"/>
<circle cx="113.1" cy="409.1" r="1.2"/>
<circle cx="45.1" cy="392.6" r="1.2"/>
<circle cx="50.1" cy="399.5" r="1.2"/>
<circle cx="55.2" cy="388.1" r="1.2"/>
<circle cx="96.6" cy="418.3" r="1.2"/>
<circle cx="90.5" cy="403.6" r="1.2"/>
<circle cx="64.7" cy="388.4" r="1.2"/>
<circle cx="41.7" cy="389.9" r="1.2"/>
<line x1="39.45" x2="121.9" y1="390.28" y2="390.28" stroke="#202870" stroke-opacity="0.5" stroke-width="1.2"/>
<line x1="39.45" x2="121.9" y1="411.19" y2="411.19" stroke="#a82020" stroke-opacity="0.5" stroke-width="1.2"/>
</g>
<rect x="39.45" y="333.5" width="82.45" height="110.00" fill="none" stroke="#5a5a5a" stroke-width="1.1"/>
<line x1="34.95" x2="39.45" y1="337.50" y2="337.50" stroke="#5a5a5a" stroke-width="1.1"/>
<text transform="translate(28.85,337.50) rotate(-90)" font-size="10.5" text-anchor="middle">4</text>
<line x1="34.95" x2="39.45" y1="363.00" y2="363.00" stroke="#5a5a5a" stroke-width="1.1"/>
<text transform="translate(28.85,363.00) rotate(-90)" font-size="10.5" text-anchor="middle">2</text>
<line x1="34.95" x2="39.45" y1="388.50" y2="388.50" stroke="#5a5a5a" stroke-width="1.1"/>
<text transform="translate(28.85,388.50) rotate(-90)" font-size="10.5" text-anchor="middle">0</text>
<line x1="34.95" x2="39.45" y1="414.00" y2="414.00" stroke="#5a5a5a" stroke-width="1.1"/>
<text transform="translate(28.85,414.00) rotate(-90)" font-size="10.5" text-anchor="middle">−2</text>
<line x1="34.95" x2="39.45" y1="439.50" y2="439.50" stroke="#5a5a5a" stroke-width="1.1"/>
<text transform="translate(28.85,439.50) rotate(-90)" font-size="10.5" text-anchor="middle">−4</text>
<line x1="41.70" x2="41.70" y1="443.5" y2="448.00" stroke="#5a5a5a" stroke-width="1.1"/>
<text x="41.70" y="460.70" font-size="10.5" text-anchor="middle">0</text>
<line x1="61.83" x2="61.83" y1="443.5" y2="448.00" stroke="#5a5a5a" stroke-width="1.1"/>
<text x="61.83" y="460.70" font-size="10.5" text-anchor="middle">50</text>
<line x1="81.96" x2="81.96" y1="443.5" y2="448.00" stroke="#5a5a5a" stroke-width="1.1"/>
<line x1="102.09" x2="102.09" y1="443.5" y2="448.00" stroke="#5a5a5a" stroke-width="1.1"/>
<text x="102.09" y="460.70" font-size="10.5" text-anchor="middle">150</text>
<text x="205.00" y="328.60" font-size="10.5" font-weight="bold" text-anchor="middle" style="fill:#111">g9</text>
<clipPath id="cp21"><rect x="163.5" y="333.5" width="83.00" height="110.00"/></clipPath><g clip-path="url(#cp21)">
<circle cx="198.3" cy="341.0" r="1.2"/>
<circle cx="200.0" cy="342.2" r="1.2"/>
<circle cx="237.1" cy="341.9" r="1.2"/>
<circle cx="200.0" cy="349.6" r="1.2"/>
<circle cx="210.3" cy="350.1" r="1.2"/>
<circle cx="238.8" cy="353.0" r="1.2"/>
<circle cx="171.4" cy="362.4" r="1.2"/>
<circle cx="187.4" cy="360.4" r="1.2"/>
<circle cx="202.8" cy="368.4" r="1.2"/>
<circle cx="204.5" cy="371.3" r="1.2"/>
<circle cx="208.3" cy="371.3" r="1.2"/>
<circle cx="197.6" cy="375.3" r="1.2"/>
<circle cx="221.1" cy="375.3" r="1.2"/>
<circle cx="222.3" cy="374.8" r="1.2"/>
<circle cx="242.5" cy="375.3" r="1.2"/>
<circle cx="240.5" cy="377.0" r="1.2"/>
<circle cx="234.8" cy="378.2" r="1.2"/>
<circle cx="171.4" cy="379.9" r="1.2"/>
<circle cx="173.7" cy="377.8" r="1.2"/>
<circle cx="175.4" cy="378.7" r="1.2"/>
<circle cx="182.6" cy="376.5" r="1.2"/>
<circle cx="183.9" cy="377.0" r="1.2"/>
<circle cx="182.2" cy="380.4" r="1.2"/>
<circle cx="185.7" cy="380.9" r="1.2"/>
<circle cx="201.4" cy="380.9" r="1.2"/>
<circle cx="167.5" cy="383.3" r="1.2"/>
<circle cx="168.9" cy="383.8" r="1.2"/>
<circle cx="170.2" cy="383.0" r="1.2"/>
<circle cx="183.4" cy="383.8" r="1.2"/>
<circle cx="193.2" cy="382.6" r="1.2"/>
<circle cx="195.4" cy="383.0" r="1.2"/>
<circle cx="196.6" cy="382.1" r="1.2"/>
<circle cx="210.8" cy="384.7" r="1.2"/>
<circle cx="211.7" cy="383.0" r="1.2"/>
<circle cx="216.5" cy="383.8" r="1.2"/>
<circle cx="221.6" cy="383.0" r="1.2"/>
<circle cx="223.7" cy="383.3" r="1.2"/>
<circle cx="180.9" cy="386.1" r="1.2"/>
<circle cx="181.7" cy="387.8" r="1.2"/>
<circle cx="174.3" cy="386.8" r="1.2"/>
<circle cx="176.1" cy="388.1" r="1.2"/>
<circle cx="177.8" cy="389.5" r="1.2"/>
<circle cx="168.9" cy="389.0" r="1.2"/>
<circle cx="170.2" cy="387.8" r="1.2"/>
<circle cx="167.1" cy="389.8" r="1.2"/>
<circle cx="188.0" cy="388.1" r="1.2"/>
<circle cx="189.4" cy="388.5" r="1.2"/>
<circle cx="205.7" cy="389.0" r="1.2"/>
<circle cx="209.1" cy="389.0" r="1.2"/>
<circle cx="212.6" cy="387.8" r="1.2"/>
<circle cx="214.3" cy="388.1" r="1.2"/>
<circle cx="219.9" cy="387.8" r="1.2"/>
<circle cx="229.7" cy="388.5" r="1.2"/>
<circle cx="231.4" cy="387.3" r="1.2"/>
<circle cx="233.6" cy="386.1" r="1.2"/>
<circle cx="235.7" cy="386.8" r="1.2"/>
<circle cx="237.7" cy="386.4" r="1.2"/>
<circle cx="239.1" cy="388.1" r="1.2"/>
<circle cx="241.2" cy="388.5" r="1.2"/>
<circle cx="192.8" cy="389.5" r="1.2"/>
<circle cx="225.4" cy="389.5" r="1.2"/>
<circle cx="167.1" cy="390.3" r="1.2"/>
<circle cx="169.7" cy="391.1" r="1.2"/>
<circle cx="168.5" cy="394.6" r="1.2"/>
<circle cx="171.4" cy="398.9" r="1.2"/>
<circle cx="172.6" cy="400.1" r="1.2"/>
<circle cx="170.2" cy="396.3" r="1.2"/>
<circle cx="174.0" cy="394.2" r="1.2"/>
<circle cx="174.9" cy="392.5" r="1.2"/>
<circle cx="177.4" cy="391.1" r="1.2"/>
<circle cx="179.1" cy="390.8" r="1.2"/>
<circle cx="180.5" cy="392.0" r="1.2"/>
<circle cx="176.6" cy="398.0" r="1.2"/>
<circle cx="178.3" cy="401.8" r="1.2"/>
<circle cx="179.1" cy="403.1" r="1.2"/>
<circle cx="177.1" cy="396.6" r="1.2"/>
<circle cx="180.9" cy="396.6" r="1.2"/>
<circle cx="182.6" cy="395.9" r="1.2"/>
<circle cx="183.9" cy="395.4" r="1.2"/>
<circle cx="173.1" cy="405.7" r="1.2"/>
<circle cx="180.0" cy="406.2" r="1.2"/>
<circle cx="179.1" cy="409.1" r="1.2"/>
<circle cx="173.7" cy="415.1" r="1.2"/>
<circle cx="176.6" cy="414.3" r="1.2"/>
<circle cx="184.3" cy="406.2" r="1.2"/>
<circle cx="185.1" cy="411.4" r="1.2"/>
<circle cx="186.9" cy="398.3" r="1.2"/>
<circle cx="187.7" cy="399.4" r="1.2"/>
<circle cx="188.6" cy="406.9" r="1.2"/>
<circle cx="191.1" cy="405.7" r="1.2"/>
<circle cx="192.8" cy="406.9" r="1.2"/>
<circle cx="191.1" cy="415.5" r="1.2"/>
<circle cx="189.4" cy="425.8" r="1.2"/>
<circle cx="184.3" cy="432.6" r="1.2"/>
<circle cx="192.0" cy="393.2" r="1.2"/>
<circle cx="193.7" cy="394.2" r="1.2"/>
<circle cx="194.6" cy="392.5" r="1.2"/>
<circle cx="197.1" cy="390.8" r="1.2"/>
<circle cx="192.8" cy="400.1" r="1.2"/>
<circle cx="197.1" cy="403.1" r="1.2"/>
<circle cx="198.3" cy="401.8" r="1.2"/>
<circle cx="200.0" cy="398.9" r="1.2"/>
<circle cx="202.3" cy="396.6" r="1.2"/>
<circle cx="204.0" cy="401.1" r="1.2"/>
<circle cx="203.1" cy="407.9" r="1.2"/>
<circle cx="206.2" cy="395.4" r="1.2"/>
<circle cx="206.6" cy="398.0" r="1.2"/>
<circle cx="208.3" cy="401.4" r="1.2"/>
<circle cx="211.7" cy="391.1" r="1.2"/>
<circle cx="213.4" cy="392.9" r="1.2"/>
<circle cx="215.1" cy="394.9" r="1.2"/>
<circle cx="216.0" cy="398.0" r="1.2"/>
<circle cx="214.3" cy="403.1" r="1.2"/>
<circle cx="213.1" cy="405.2" r="1.2"/>
<circle cx="217.2" cy="401.1" r="1.2"/>
<circle cx="218.6" cy="399.4" r="1.2"/>
<circle cx="216.8" cy="406.2" r="1.2"/>
<circle cx="218.9" cy="406.6" r="1.2"/>
<circle cx="212.0" cy="409.7" r="1.2"/>
<circle cx="213.1" cy="411.4" r="1.2"/>
<circle cx="211.7" cy="416.0" r="1.2"/>
<circle cx="212.0" cy="427.5" r="1.2"/>
<circle cx="220.3" cy="394.9" r="1.2"/>
<circle cx="221.6" cy="395.4" r="1.2"/>
<circle cx="223.4" cy="396.3" r="1.2"/>
<circle cx="224.6" cy="394.2" r="1.2"/>
<circle cx="223.7" cy="408.6" r="1.2"/>
<circle cx="226.8" cy="407.4" r="1.2"/>
<circle cx="228.5" cy="407.9" r="1.2"/>
<circle cx="227.1" cy="399.4" r="1.2"/>
<circle cx="228.0" cy="401.8" r="1.2"/>
<circle cx="229.7" cy="403.1" r="1.2"/>
<circle cx="231.9" cy="402.3" r="1.2"/>
<circle cx="230.9" cy="398.3" r="1.2"/>
<circle cx="232.3" cy="395.4" r="1.2"/>
<circle cx="234.0" cy="394.2" r="1.2"/>
<circle cx="235.7" cy="390.8" r="1.2"/>
<circle cx="228.8" cy="413.8" r="1.2"/>
<circle cx="228.8" cy="422.0" r="1.2"/>
<circle cx="239.5" cy="395.9" r="1.2"/>
<circle cx="241.2" cy="396.6" r="1.2"/>
<circle cx="239.5" cy="408.6" r="1.2"/>
<circle cx="242.5" cy="416.5" r="1.2"/>
<circle cx="243.4" cy="421.1" r="1.2"/>
<circle cx="238.3" cy="434.8" r="1.2"/>
<circle cx="240.8" cy="436.6" r="1.2"/>
<circle cx="196.2" cy="381.7" r="1.2"/>
<circle cx="220.0" cy="394.1" r="1.2"/>
<circle cx="221.2" cy="395.4" r="1.2"/>
<circle cx="201.1" cy="368.5" r="1.2"/>
<circle cx="190.3" cy="389.4" r="1.2"/>
<circle cx="209.2" cy="388.9" r="1.2"/>
<circle cx="200.4" cy="398.4" r="1.2"/>
<circle cx="223.8" cy="391.7" r="1.2"/>
<circle cx="166.0" cy="390.7" r="1.2"/>
<circle cx="239.5" cy="436.0" r="1.2"/>
<circle cx="167.0" cy="390.7" r="1.2"/>
<circle cx="170.9" cy="382.2" r="1.2"/>
<circle cx="228.5" cy="408.8" r="1.2"/>
<circle cx="170.8" cy="397.4" r="1.2"/>
<circle cx="230.2" cy="400.3" r="1.2"/>
<circle cx="180.4" cy="395.1" r="1.2"/>
<circle cx="177.3" cy="390.7" r="1.2"/>
<circle cx="192.1" cy="393.1" r="1.2"/>
<line x1="163.5" x2="246.5" y1="391.05" y2="391.05" stroke="#202870" stroke-opacity="0.5" stroke-width="1.2"/>
<line x1="163.5" x2="246.5" y1="394.24" y2="394.24" stroke="#a82020" stroke-opacity="0.5" stroke-width="1.2"/>
</g>
<rect x="163.5" y="333.5" width="83.00" height="110.00" fill="none" stroke="#5a5a5a" stroke-width="1.1"/>
<line x1="159.00" x2="163.5" y1="337.50" y2="337.50" stroke="#5a5a5a" stroke-width="1.1"/>
<text transform="translate(152.90,337.50) rotate(-90)" font-size="10.5" text-anchor="middle">4</text>
<line x1="159.00" x2="163.5" y1="363.00" y2="363.00" stroke="#5a5a5a" stroke-width="1.1"/>
<text transform="translate(152.90,363.00) rotate(-90)" font-size="10.5" text-anchor="middle">2</text>
<line x1="159.00" x2="163.5" y1="388.50" y2="388.50" stroke="#5a5a5a" stroke-width="1.1"/>
<text transform="translate(152.90,388.50) rotate(-90)" font-size="10.5" text-anchor="middle">0</text>
<line x1="159.00" x2="163.5" y1="414.00" y2="414.00" stroke="#5a5a5a" stroke-width="1.1"/>
<text transform="translate(152.90,414.00) rotate(-90)" font-size="10.5" text-anchor="middle">−2</text>
<line x1="159.00" x2="163.5" y1="439.50" y2="439.50" stroke="#5a5a5a" stroke-width="1.1"/>
<text transform="translate(152.90,439.50) rotate(-90)" font-size="10.5" text-anchor="middle">−4</text>
<line x1="166.50" x2="166.50" y1="443.5" y2="448.00" stroke="#5a5a5a" stroke-width="1.1"/>
<text x="166.50" y="460.70" font-size="10.5" text-anchor="middle">0</text>
<line x1="186.63" x2="186.63" y1="443.5" y2="448.00" stroke="#5a5a5a" stroke-width="1.1"/>
<text x="186.63" y="460.70" font-size="10.5" text-anchor="middle">50</text>
<line x1="206.76" x2="206.76" y1="443.5" y2="448.00" stroke="#5a5a5a" stroke-width="1.1"/>
<line x1="226.89" x2="226.89" y1="443.5" y2="448.00" stroke="#5a5a5a" stroke-width="1.1"/>
<text x="226.89" y="460.70" font-size="10.5" text-anchor="middle">150</text>
<text x="329.70" y="328.60" font-size="10.5" font-weight="bold" text-anchor="middle" style="fill:#111">OPN28</text>
<clipPath id="cp22"><rect x="288.4" y="333.5" width="82.60" height="110.00"/></clipPath><g clip-path="url(#cp22)">
<circle cx="322.6" cy="336.1" r="1.2"/>
<circle cx="329.0" cy="337.6" r="1.2"/>
<circle cx="367.2" cy="335.1" r="1.2"/>
<circle cx="361.0" cy="341.2" r="1.2"/>
<circle cx="306.7" cy="344.1" r="1.2"/>
<circle cx="315.3" cy="347.1" r="1.2"/>
<circle cx="335.0" cy="348.4" r="1.2"/>
<circle cx="296.4" cy="356.1" r="1.2"/>
<circle cx="303.3" cy="356.1" r="1.2"/>
<circle cx="302.8" cy="358.7" r="1.2"/>
<circle cx="360.4" cy="354.4" r="1.2"/>
<circle cx="361.0" cy="359.0" r="1.2"/>
<circle cx="346.1" cy="360.1" r="1.2"/>
<circle cx="353.8" cy="360.1" r="1.2"/>
<circle cx="322.1" cy="364.2" r="1.2"/>
<circle cx="357.6" cy="364.7" r="1.2"/>
<circle cx="291.0" cy="373.2" r="1.2"/>
<circle cx="293.3" cy="372.3" r="1.2"/>
<circle cx="294.5" cy="376.6" r="1.2"/>
<circle cx="292.8" cy="379.6" r="1.2"/>
<circle cx="292.2" cy="382.7" r="1.2"/>
<circle cx="293.9" cy="384.5" r="1.2"/>
<circle cx="295.3" cy="383.3" r="1.2"/>
<circle cx="296.2" cy="386.2" r="1.2"/>
<circle cx="298.0" cy="385.0" r="1.2"/>
<circle cx="299.1" cy="386.8" r="1.2"/>
<circle cx="295.7" cy="388.5" r="1.2"/>
<circle cx="293.3" cy="388.5" r="1.2"/>
<circle cx="298.0" cy="378.7" r="1.2"/>
<circle cx="299.1" cy="377.0" r="1.2"/>
<circle cx="300.8" cy="371.8" r="1.2"/>
<circle cx="302.0" cy="374.1" r="1.2"/>
<circle cx="303.1" cy="375.2" r="1.2"/>
<circle cx="299.9" cy="379.8" r="1.2"/>
<circle cx="301.4" cy="381.6" r="1.2"/>
<circle cx="302.6" cy="382.7" r="1.2"/>
<circle cx="303.7" cy="384.5" r="1.2"/>
<circle cx="305.5" cy="385.6" r="1.2"/>
<circle cx="304.1" cy="378.7" r="1.2"/>
<circle cx="307.2" cy="377.0" r="1.2"/>
<circle cx="308.3" cy="378.7" r="1.2"/>
<circle cx="306.6" cy="381.6" r="1.2"/>
<circle cx="307.8" cy="383.3" r="1.2"/>
<circle cx="309.5" cy="384.5" r="1.2"/>
<circle cx="311.2" cy="381.0" r="1.2"/>
<circle cx="312.4" cy="383.3" r="1.2"/>
<circle cx="314.1" cy="382.1" r="1.2"/>
<circle cx="315.3" cy="381.6" r="1.2"/>
<circle cx="316.4" cy="384.5" r="1.2"/>
<circle cx="317.6" cy="383.3" r="1.2"/>
<circle cx="318.7" cy="385.0" r="1.2"/>
<circle cx="320.4" cy="385.6" r="1.2"/>
<circle cx="321.6" cy="383.9" r="1.2"/>
<circle cx="314.7" cy="374.1" r="1.2"/>
<circle cx="317.6" cy="375.2" r="1.2"/>
<circle cx="316.8" cy="369.5" r="1.2"/>
<circle cx="319.3" cy="368.9" r="1.2"/>
<circle cx="321.6" cy="371.2" r="1.2"/>
<circle cx="323.9" cy="376.4" r="1.2"/>
<circle cx="324.5" cy="378.7" r="1.2"/>
<circle cx="325.6" cy="380.4" r="1.2"/>
<circle cx="326.8" cy="377.0" r="1.2"/>
<circle cx="327.9" cy="374.7" r="1.2"/>
<circle cx="327.4" cy="382.1" r="1.2"/>
<circle cx="326.2" cy="385.0" r="1.2"/>
<circle cx="324.1" cy="385.6" r="1.2"/>
<circle cx="322.8" cy="387.3" r="1.2"/>
<circle cx="310.1" cy="387.9" r="1.2"/>
<circle cx="307.8" cy="388.5" r="1.2"/>
<circle cx="305.5" cy="389.1" r="1.2"/>
<circle cx="303.1" cy="388.5" r="1.2"/>
<circle cx="300.8" cy="389.1" r="1.2"/>
<circle cx="298.5" cy="390.2" r="1.2"/>
<circle cx="313.5" cy="389.6" r="1.2"/>
<circle cx="316.4" cy="389.1" r="1.2"/>
<circle cx="319.3" cy="390.2" r="1.2"/>
<circle cx="321.6" cy="389.6" r="1.2"/>
<circle cx="327.4" cy="389.1" r="1.2"/>
<circle cx="292.2" cy="393.7" r="1.2"/>
<circle cx="293.3" cy="397.1" r="1.2"/>
<circle cx="295.7" cy="393.7" r="1.2"/>
<circle cx="297.4" cy="395.4" r="1.2"/>
<circle cx="299.7" cy="394.3" r="1.2"/>
<circle cx="296.8" cy="398.3" r="1.2"/>
<circle cx="294.5" cy="401.2" r="1.2"/>
<circle cx="292.2" cy="402.9" r="1.2"/>
<circle cx="291.6" cy="405.8" r="1.2"/>
<circle cx="296.2" cy="401.8" r="1.2"/>
<circle cx="298.5" cy="400.6" r="1.2"/>
<circle cx="300.8" cy="397.7" r="1.2"/>
<circle cx="302.6" cy="398.3" r="1.2"/>
<circle cx="304.3" cy="397.1" r="1.2"/>
<circle cx="305.5" cy="394.8" r="1.2"/>
<circle cx="307.2" cy="395.4" r="1.2"/>
<circle cx="308.9" cy="396.0" r="1.2"/>
<circle cx="311.2" cy="394.3" r="1.2"/>
<circle cx="312.4" cy="397.1" r="1.2"/>
<circle cx="313.5" cy="392.5" r="1.2"/>
<circle cx="315.3" cy="392.0" r="1.2"/>
<circle cx="318.1" cy="393.7" r="1.2"/>
<circle cx="319.9" cy="394.8" r="1.2"/>
<circle cx="321.6" cy="396.0" r="1.2"/>
<circle cx="323.9" cy="393.1" r="1.2"/>
<circle cx="326.2" cy="395.4" r="1.2"/>
<circle cx="327.9" cy="399.4" r="1.2"/>
<circle cx="310.6" cy="398.3" r="1.2"/>
<circle cx="311.8" cy="401.8" r="1.2"/>
<circle cx="308.3" cy="402.9" r="1.2"/>
<circle cx="318.1" cy="399.4" r="1.2"/>
<circle cx="319.3" cy="402.9" r="1.2"/>
<circle cx="321.0" cy="403.5" r="1.2"/>
<circle cx="318.1" cy="406.4" r="1.2"/>
<circle cx="314.7" cy="400.6" r="1.2"/>
<circle cx="316.4" cy="402.7" r="1.2"/>
<circle cx="305.5" cy="406.4" r="1.2"/>
<circle cx="307.2" cy="408.1" r="1.2"/>
<circle cx="308.9" cy="409.8" r="1.2"/>
<circle cx="307.8" cy="411.0" r="1.2"/>
<circle cx="313.5" cy="408.1" r="1.2"/>
<circle cx="321.6" cy="409.8" r="1.2"/>
<circle cx="323.9" cy="406.4" r="1.2"/>
<circle cx="326.8" cy="408.7" r="1.2"/>
<circle cx="327.4" cy="404.1" r="1.2"/>
<circle cx="292.2" cy="412.1" r="1.2"/>
<circle cx="294.5" cy="413.9" r="1.2"/>
<circle cx="295.1" cy="418.5" r="1.2"/>
<circle cx="328.5" cy="414.4" r="1.2"/>
<circle cx="334.8" cy="368.3" r="1.2"/>
<circle cx="337.7" cy="368.5" r="1.2"/>
<circle cx="332.5" cy="372.3" r="1.2"/>
<circle cx="335.3" cy="374.1" r="1.2"/>
<circle cx="339.4" cy="374.1" r="1.2"/>
<circle cx="345.1" cy="370.8" r="1.2"/>
<circle cx="344.0" cy="374.3" r="1.2"/>
<circle cx="346.9" cy="376.4" r="1.2"/>
<circle cx="335.9" cy="377.5" r="1.2"/>
<circle cx="334.2" cy="379.3" r="1.2"/>
<circle cx="338.2" cy="381.0" r="1.2"/>
<circle cx="336.5" cy="384.5" r="1.2"/>
<circle cx="334.2" cy="387.3" r="1.2"/>
<circle cx="331.3" cy="383.3" r="1.2"/>
<circle cx="340.5" cy="383.9" r="1.2"/>
<circle cx="344.0" cy="381.6" r="1.2"/>
<circle cx="346.9" cy="383.3" r="1.2"/>
<circle cx="349.2" cy="383.3" r="1.2"/>
<circle cx="350.9" cy="385.6" r="1.2"/>
<circle cx="348.6" cy="387.3" r="1.2"/>
<circle cx="345.1" cy="387.3" r="1.2"/>
<circle cx="341.7" cy="387.9" r="1.2"/>
<circle cx="349.2" cy="379.3" r="1.2"/>
<circle cx="355.0" cy="377.0" r="1.2"/>
<circle cx="356.7" cy="376.4" r="1.2"/>
<circle cx="358.4" cy="377.5" r="1.2"/>
<circle cx="361.3" cy="377.0" r="1.2"/>
<circle cx="363.0" cy="377.5" r="1.2"/>
<circle cx="363.6" cy="379.3" r="1.2"/>
<circle cx="364.8" cy="382.1" r="1.2"/>
<circle cx="365.9" cy="383.3" r="1.2"/>
<circle cx="355.5" cy="379.8" r="1.2"/>
<circle cx="356.1" cy="383.3" r="1.2"/>
<circle cx="355.0" cy="386.2" r="1.2"/>
<circle cx="359.0" cy="385.6" r="1.2"/>
<circle cx="361.3" cy="385.0" r="1.2"/>
<circle cx="363.6" cy="387.3" r="1.2"/>
<circle cx="365.9" cy="387.3" r="1.2"/>
<circle cx="356.7" cy="387.9" r="1.2"/>
<circle cx="331.3" cy="388.5" r="1.2"/>
<circle cx="338.8" cy="387.9" r="1.2"/>
<circle cx="331.3" cy="393.7" r="1.2"/>
<circle cx="330.7" cy="396.0" r="1.2"/>
<circle cx="332.5" cy="398.3" r="1.2"/>
<circle cx="334.8" cy="395.4" r="1.2"/>
<circle cx="337.1" cy="394.8" r="1.2"/>
<circle cx="338.8" cy="393.7" r="1.2"/>
<circle cx="340.5" cy="394.3" r="1.2"/>
<circle cx="341.7" cy="396.0" r="1.2"/>
<circle cx="342.8" cy="397.7" r="1.2"/>
<circle cx="344.0" cy="395.4" r="1.2"/>
<circle cx="345.1" cy="393.7" r="1.2"/>
<circle cx="347.5" cy="395.4" r="1.2"/>
<circle cx="349.2" cy="397.1" r="1.2"/>
<circle cx="350.3" cy="398.9" r="1.2"/>
<circle cx="351.5" cy="394.8" r="1.2"/>
<circle cx="353.8" cy="393.7" r="1.2"/>
<circle cx="352.1" cy="397.1" r="1.2"/>
<circle cx="353.2" cy="399.4" r="1.2"/>
<circle cx="355.5" cy="395.4" r="1.2"/>
<circle cx="357.8" cy="393.7" r="1.2"/>
<circle cx="359.0" cy="397.1" r="1.2"/>
<circle cx="360.7" cy="398.3" r="1.2"/>
<circle cx="362.4" cy="396.0" r="1.2"/>
<circle cx="363.0" cy="399.4" r="1.2"/>
<circle cx="364.8" cy="393.7" r="1.2"/>
<circle cx="365.9" cy="396.6" r="1.2"/>
<circle cx="364.8" cy="403.5" r="1.2"/>
<circle cx="365.9" cy="404.1" r="1.2"/>
<circle cx="364.2" cy="407.5" r="1.2"/>
<circle cx="356.7" cy="401.8" r="1.2"/>
<circle cx="353.2" cy="404.6" r="1.2"/>
<circle cx="331.3" cy="402.3" r="1.2"/>
<circle cx="334.8" cy="404.1" r="1.2"/>
<circle cx="335.9" cy="405.8" r="1.2"/>
<circle cx="340.0" cy="404.1" r="1.2"/>
<circle cx="342.8" cy="406.9" r="1.2"/>
<circle cx="346.3" cy="405.8" r="1.2"/>
<circle cx="348.0" cy="408.7" r="1.2"/>
<circle cx="335.9" cy="409.3" r="1.2"/>
<circle cx="333.0" cy="411.0" r="1.2"/>
<circle cx="331.3" cy="413.3" r="1.2"/>
<circle cx="339.4" cy="412.1" r="1.2"/>
<circle cx="344.0" cy="412.7" r="1.2"/>
<circle cx="346.9" cy="412.7" r="1.2"/>
<circle cx="350.3" cy="411.9" r="1.2"/>
<circle cx="359.0" cy="412.1" r="1.2"/>
<circle cx="356.7" cy="416.2" r="1.2"/>
<circle cx="359.0" cy="417.9" r="1.2"/>
<circle cx="351.5" cy="419.1" r="1.2"/>
<circle cx="344.6" cy="420.8" r="1.2"/>
<circle cx="367.1" cy="416.7" r="1.2"/>
<circle cx="344.9" cy="421.1" r="1.2"/>
<circle cx="347.3" cy="422.5" r="1.2"/>
<circle cx="360.4" cy="425.4" r="1.2"/>
<circle cx="327.8" cy="436.2" r="1.2"/>
<circle cx="289.6" cy="389.0" r="1.2"/>
<circle cx="291.1" cy="383.8" r="1.2"/>
<circle cx="292.1" cy="389.8" r="1.2"/>
<circle cx="292.8" cy="388.8" r="1.2"/>
<circle cx="294.5" cy="385.4" r="1.2"/>
<circle cx="294.7" cy="384.0" r="1.2"/>
<circle cx="296.3" cy="389.3" r="1.2"/>
<circle cx="297.6" cy="392.9" r="1.2"/>
<circle cx="298.1" cy="389.7" r="1.2"/>
<circle cx="300.4" cy="391.5" r="1.2"/>
<circle cx="301.2" cy="392.0" r="1.2"/>
<circle cx="301.6" cy="393.8" r="1.2"/>
<circle cx="303.3" cy="389.3" r="1.2"/>
<circle cx="304.8" cy="389.3" r="1.2"/>
<circle cx="305.2" cy="391.0" r="1.2"/>
<circle cx="307.1" cy="397.5" r="1.2"/>
<circle cx="307.6" cy="392.9" r="1.2"/>
<circle cx="309.1" cy="388.3" r="1.2"/>
<circle cx="309.8" cy="393.4" r="1.2"/>
<circle cx="311.9" cy="387.6" r="1.2"/>
<circle cx="312.9" cy="388.3" r="1.2"/>
<circle cx="313.0" cy="391.9" r="1.2"/>
<circle cx="314.2" cy="391.5" r="1.2"/>
<circle cx="316.0" cy="390.2" r="1.2"/>
<circle cx="316.3" cy="387.9" r="1.2"/>
<circle cx="317.8" cy="386.7" r="1.2"/>
<circle cx="319.6" cy="386.6" r="1.2"/>
<circle cx="320.4" cy="389.5" r="1.2"/>
<circle cx="321.8" cy="396.8" r="1.2"/>
<circle cx="322.1" cy="392.0" r="1.2"/>
<circle cx="324.0" cy="389.5" r="1.2"/>
<circle cx="325.2" cy="388.8" r="1.2"/>
<circle cx="325.9" cy="388.8" r="1.2"/>
<circle cx="326.6" cy="389.0" r="1.2"/>
<circle cx="328.0" cy="391.0" r="1.2"/>
<circle cx="329.8" cy="388.6" r="1.2"/>
<circle cx="331.2" cy="391.7" r="1.2"/>
<circle cx="331.6" cy="388.3" r="1.2"/>
<circle cx="332.9" cy="389.5" r="1.2"/>
<circle cx="334.3" cy="387.8" r="1.2"/>
<circle cx="335.5" cy="389.7" r="1.2"/>
<circle cx="336.9" cy="388.6" r="1.2"/>
<circle cx="337.0" cy="386.9" r="1.2"/>
<circle cx="339.1" cy="392.7" r="1.2"/>
<circle cx="339.6" cy="392.6" r="1.2"/>
<circle cx="340.6" cy="387.4" r="1.2"/>
<circle cx="341.8" cy="389.7" r="1.2"/>
<circle cx="342.9" cy="390.3" r="1.2"/>
<circle cx="344.6" cy="391.0" r="1.2"/>
<circle cx="344.9" cy="389.1" r="1.2"/>
<circle cx="347.2" cy="386.2" r="1.2"/>
<circle cx="347.5" cy="388.6" r="1.2"/>
<circle cx="349.0" cy="390.7" r="1.2"/>
<circle cx="349.9" cy="386.2" r="1.2"/>
<circle cx="350.8" cy="389.8" r="1.2"/>
<circle cx="352.3" cy="388.8" r="1.2"/>
<circle cx="353.8" cy="392.6" r="1.2"/>
<circle cx="355.2" cy="392.7" r="1.2"/>
<circle cx="355.9" cy="389.5" r="1.2"/>
<circle cx="356.9" cy="387.8" r="1.2"/>
<circle cx="357.6" cy="390.7" r="1.2"/>
<circle cx="359.2" cy="387.1" r="1.2"/>
<circle cx="361.0" cy="394.1" r="1.2"/>
<circle cx="361.4" cy="382.6" r="1.2"/>
<circle cx="362.6" cy="388.8" r="1.2"/>
<circle cx="363.6" cy="385.9" r="1.2"/>
<circle cx="364.8" cy="391.0" r="1.2"/>
<circle cx="366.7" cy="391.5" r="1.2"/>
<circle cx="367.7" cy="386.7" r="1.2"/>
<circle cx="368.2" cy="386.7" r="1.2"/>
<circle cx="316.7" cy="393.4" r="1.2"/>
<circle cx="304.0" cy="385.3" r="1.2"/>
<circle cx="292.9" cy="388.5" r="1.2"/>
<circle cx="357.3" cy="388.1" r="1.2"/>
<circle cx="364.0" cy="386.8" r="1.2"/>
<circle cx="313.7" cy="387.0" r="1.2"/>
<circle cx="294.1" cy="394.9" r="1.2"/>
<circle cx="296.5" cy="387.7" r="1.2"/>
<circle cx="327.2" cy="385.7" r="1.2"/>
<circle cx="330.7" cy="390.0" r="1.2"/>
<circle cx="306.2" cy="394.0" r="1.2"/>
<circle cx="300.1" cy="377.3" r="1.2"/>
<circle cx="313.0" cy="392.0" r="1.2"/>
<circle cx="296.8" cy="390.0" r="1.2"/>
<circle cx="325.5" cy="387.9" r="1.2"/>
<circle cx="294.4" cy="392.5" r="1.2"/>
<circle cx="318.5" cy="389.9" r="1.2"/>
<circle cx="316.4" cy="386.0" r="1.2"/>
<circle cx="323.6" cy="385.6" r="1.2"/>
<circle cx="313.1" cy="386.7" r="1.2"/>
<circle cx="339.6" cy="389.1" r="1.2"/>
<line x1="288.4" x2="371.0" y1="389.01" y2="389.01" stroke="#202870" stroke-opacity="0.5" stroke-width="1.2"/>
<line x1="288.4" x2="371.0" y1="390.54" y2="390.54" stroke="#a82020" stroke-opacity="0.5" stroke-width="1.2"/>
</g>
<rect x="288.4" y="333.5" width="82.60" height="110.00" fill="none" stroke="#5a5a5a" stroke-width="1.1"/>
<line x1="283.90" x2="288.4" y1="337.50" y2="337.50" stroke="#5a5a5a" stroke-width="1.1"/>
<text transform="translate(277.80,337.50) rotate(-90)" font-size="10.5" text-anchor="middle">4</text>
<line x1="283.90" x2="288.4" y1="363.00" y2="363.00" stroke="#5a5a5a" stroke-width="1.1"/>
<text transform="translate(277.80,363.00) rotate(-90)" font-size="10.5" text-anchor="middle">2</text>
<line x1="283.90" x2="288.4" y1="388.50" y2="388.50" stroke="#5a5a5a" stroke-width="1.1"/>
<text transform="translate(277.80,388.50) rotate(-90)" font-size="10.5" text-anchor="middle">0</text>
<line x1="283.90" x2="288.4" y1="414.00" y2="414.00" stroke="#5a5a5a" stroke-width="1.1"/>
<text transform="translate(277.80,414.00) rotate(-90)" font-size="10.5" text-anchor="middle">−2</text>
<line x1="283.90" x2="288.4" y1="439.50" y2="439.50" stroke="#5a5a5a" stroke-width="1.1"/>
<text transform="translate(277.80,439.50) rotate(-90)" font-size="10.5" text-anchor="middle">−4</text>
<line x1="290.50" x2="290.50" y1="443.5" y2="448.00" stroke="#5a5a5a" stroke-width="1.1"/>
<text x="290.50" y="460.70" font-size="10.5" text-anchor="middle">0</text>
<line x1="310.70" x2="310.70" y1="443.5" y2="448.00" stroke="#5a5a5a" stroke-width="1.1"/>
<line x1="330.90" x2="330.90" y1="443.5" y2="448.00" stroke="#5a5a5a" stroke-width="1.1"/>
<text x="330.90" y="460.70" font-size="10.5" text-anchor="middle">200</text>
<line x1="351.10" x2="351.10" y1="443.5" y2="448.00" stroke="#5a5a5a" stroke-width="1.1"/>
<text x="454.02" y="328.60" font-size="10.5" font-weight="bold" text-anchor="middle" style="fill:#111">dT</text>
<clipPath id="cp23"><rect x="412.55" y="333.5" width="82.95" height="110.00"/></clipPath><g clip-path="url(#cp23)">
<circle cx="415.8" cy="386.0" r="1.2"/>
<circle cx="417.1" cy="385.2" r="1.2"/>
<circle cx="418.4" cy="383.9" r="1.2"/>
<circle cx="419.7" cy="382.1" r="1.2"/>
<circle cx="420.5" cy="381.3" r="1.2"/>
<circle cx="421.4" cy="383.0" r="1.2"/>
<circle cx="422.7" cy="384.3" r="1.2"/>
<circle cx="424.0" cy="383.4" r="1.2"/>
<circle cx="425.3" cy="382.6" r="1.2"/>
<circle cx="426.6" cy="382.1" r="1.2"/>
<circle cx="427.9" cy="381.3" r="1.2"/>
<circle cx="429.2" cy="380.8" r="1.2"/>
<circle cx="430.1" cy="383.0" r="1.2"/>
<circle cx="431.4" cy="383.9" r="1.2"/>
<circle cx="432.7" cy="382.6" r="1.2"/>
<circle cx="434.0" cy="383.0" r="1.2"/>
<circle cx="435.7" cy="379.5" r="1.2"/>
<circle cx="436.2" cy="382.1" r="1.2"/>
<circle cx="437.0" cy="383.0" r="1.2"/>
<circle cx="438.3" cy="383.9" r="1.2"/>
<circle cx="439.6" cy="382.1" r="1.2"/>
<circle cx="440.9" cy="380.4" r="1.2"/>
<circle cx="441.8" cy="379.5" r="1.2"/>
<circle cx="442.7" cy="381.7" r="1.2"/>
<circle cx="444.0" cy="381.3" r="1.2"/>
<circle cx="445.3" cy="383.0" r="1.2"/>
<circle cx="446.6" cy="381.7" r="1.2"/>
<circle cx="447.9" cy="381.3" r="1.2"/>
<circle cx="449.2" cy="383.4" r="1.2"/>
<circle cx="450.9" cy="382.1" r="1.2"/>
<circle cx="414.5" cy="387.3" r="1.2"/>
<circle cx="415.8" cy="387.8" r="1.2"/>
<circle cx="417.1" cy="388.6" r="1.2"/>
<circle cx="418.4" cy="386.9" r="1.2"/>
<circle cx="419.7" cy="387.3" r="1.2"/>
<circle cx="421.0" cy="388.2" r="1.2"/>
<circle cx="422.3" cy="386.9" r="1.2"/>
<circle cx="423.6" cy="388.2" r="1.2"/>
<circle cx="424.9" cy="387.3" r="1.2"/>
<circle cx="426.2" cy="388.6" r="1.2"/>
<circle cx="427.5" cy="387.8" r="1.2"/>
<circle cx="428.8" cy="386.9" r="1.2"/>
<circle cx="430.1" cy="388.2" r="1.2"/>
<circle cx="431.4" cy="387.3" r="1.2"/>
<circle cx="432.7" cy="388.6" r="1.2"/>
<circle cx="434.0" cy="387.3" r="1.2"/>
<circle cx="435.3" cy="386.9" r="1.2"/>
<circle cx="436.6" cy="388.2" r="1.2"/>
<circle cx="437.9" cy="389.5" r="1.2"/>
<circle cx="439.2" cy="387.8" r="1.2"/>
<circle cx="440.5" cy="387.3" r="1.2"/>
<circle cx="441.8" cy="388.6" r="1.2"/>
<circle cx="443.1" cy="388.2" r="1.2"/>
<circle cx="444.4" cy="387.3" r="1.2"/>
<circle cx="445.7" cy="387.8" r="1.2"/>
<circle cx="447.0" cy="388.6" r="1.2"/>
<circle cx="448.3" cy="387.3" r="1.2"/>
<circle cx="449.6" cy="388.2" r="1.2"/>
<circle cx="450.9" cy="387.8" r="1.2"/>
<circle cx="417.9" cy="390.4" r="1.2"/>
<circle cx="417.5" cy="391.2" r="1.2"/>
<circle cx="424.0" cy="389.1" r="1.2"/>
<circle cx="430.9" cy="389.1" r="1.2"/>
<circle cx="437.9" cy="390.4" r="1.2"/>
<circle cx="440.5" cy="390.8" r="1.2"/>
<circle cx="441.8" cy="390.6" r="1.2"/>
<circle cx="444.8" cy="390.6" r="1.2"/>
<circle cx="446.1" cy="390.8" r="1.2"/>
<circle cx="421.8" cy="395.2" r="1.2"/>
<circle cx="425.9" cy="395.3" r="1.2"/>
<circle cx="453.9" cy="382.1" r="1.2"/>
<circle cx="454.7" cy="383.4" r="1.2"/>
<circle cx="456.5" cy="384.3" r="1.2"/>
<circle cx="458.2" cy="383.9" r="1.2"/>
<circle cx="459.9" cy="383.0" r="1.2"/>
<circle cx="461.7" cy="383.4" r="1.2"/>
<circle cx="463.0" cy="382.6" r="1.2"/>
<circle cx="465.1" cy="383.0" r="1.2"/>
<circle cx="466.4" cy="382.1" r="1.2"/>
<circle cx="468.2" cy="380.8" r="1.2"/>
<circle cx="469.5" cy="383.9" r="1.2"/>
<circle cx="471.2" cy="383.4" r="1.2"/>
<circle cx="472.9" cy="383.9" r="1.2"/>
<circle cx="474.7" cy="383.0" r="1.2"/>
<circle cx="476.4" cy="382.6" r="1.2"/>
<circle cx="478.2" cy="382.1" r="1.2"/>
<circle cx="479.5" cy="381.7" r="1.2"/>
<circle cx="480.8" cy="383.0" r="1.2"/>
<circle cx="482.5" cy="382.6" r="1.2"/>
<circle cx="484.2" cy="383.9" r="1.2"/>
<circle cx="486.0" cy="383.0" r="1.2"/>
<circle cx="487.3" cy="380.8" r="1.2"/>
<circle cx="488.6" cy="383.0" r="1.2"/>
<circle cx="490.3" cy="384.3" r="1.2"/>
<circle cx="492.0" cy="383.9" r="1.2"/>
<circle cx="491.2" cy="377.8" r="1.2"/>
<circle cx="454.3" cy="387.3" r="1.2"/>
<circle cx="455.6" cy="388.6" r="1.2"/>
<circle cx="457.3" cy="388.2" r="1.2"/>
<circle cx="459.1" cy="389.5" r="1.2"/>
<circle cx="460.8" cy="389.9" r="1.2"/>
<circle cx="462.5" cy="388.6" r="1.2"/>
<circle cx="464.3" cy="390.4" r="1.2"/>
<circle cx="466.0" cy="389.5" r="1.2"/>
<circle cx="467.3" cy="390.8" r="1.2"/>
<circle cx="468.6" cy="388.6" r="1.2"/>
<circle cx="470.3" cy="388.2" r="1.2"/>
<circle cx="472.1" cy="388.6" r="1.2"/>
<circle cx="473.8" cy="387.8" r="1.2"/>
<circle cx="475.5" cy="388.6" r="1.2"/>
<circle cx="477.3" cy="389.5" r="1.2"/>
<circle cx="479.0" cy="390.4" r="1.2"/>
<circle cx="480.8" cy="389.9" r="1.2"/>
<circle cx="482.5" cy="389.5" r="1.2"/>
<circle cx="484.2" cy="390.8" r="1.2"/>
<circle cx="486.0" cy="388.2" r="1.2"/>
<circle cx="487.7" cy="387.8" r="1.2"/>
<circle cx="489.4" cy="389.5" r="1.2"/>
<circle cx="491.2" cy="388.2" r="1.2"/>
<circle cx="492.9" cy="387.3" r="1.2"/>
<circle cx="464.3" cy="393.0" r="1.2"/>
<circle cx="477.3" cy="393.4" r="1.2"/>
<circle cx="478.2" cy="395.2" r="1.2"/>
<circle cx="479.0" cy="390.8" r="1.2"/>
<circle cx="483.4" cy="390.8" r="1.2"/>
<circle cx="489.9" cy="389.9" r="1.2"/>
<circle cx="490.3" cy="394.7" r="1.2"/>
<circle cx="492.0" cy="395.6" r="1.2"/>
<circle cx="454.7" cy="386.0" r="1.2"/>
<circle cx="458.2" cy="386.5" r="1.2"/>
<circle cx="461.7" cy="386.0" r="1.2"/>
<circle cx="465.1" cy="386.5" r="1.2"/>
<circle cx="468.6" cy="386.5" r="1.2"/>
<circle cx="472.1" cy="386.5" r="1.2"/>
<circle cx="475.5" cy="386.0" r="1.2"/>
<circle cx="479.0" cy="386.5" r="1.2"/>
<circle cx="482.5" cy="386.5" r="1.2"/>
<circle cx="486.0" cy="386.0" r="1.2"/>
<circle cx="489.4" cy="386.5" r="1.2"/>
<circle cx="492.9" cy="386.5" r="1.2"/>
<circle cx="413.9" cy="385.2" r="1.2"/>
<circle cx="415.8" cy="386.7" r="1.2"/>
<circle cx="416.1" cy="381.8" r="1.2"/>
<circle cx="417.5" cy="385.9" r="1.2"/>
<circle cx="419.4" cy="385.5" r="1.2"/>
<circle cx="420.6" cy="385.5" r="1.2"/>
<circle cx="422.3" cy="383.0" r="1.2"/>
<circle cx="423.0" cy="386.9" r="1.2"/>
<circle cx="424.4" cy="387.8" r="1.2"/>
<circle cx="426.4" cy="387.6" r="1.2"/>
<circle cx="427.5" cy="386.2" r="1.2"/>
<circle cx="429.0" cy="384.0" r="1.2"/>
<circle cx="429.5" cy="385.2" r="1.2"/>
<circle cx="431.6" cy="389.0" r="1.2"/>
<circle cx="432.6" cy="387.4" r="1.2"/>
<circle cx="433.6" cy="386.9" r="1.2"/>
<circle cx="435.0" cy="386.6" r="1.2"/>
<circle cx="437.0" cy="384.7" r="1.2"/>
<circle cx="438.4" cy="387.8" r="1.2"/>
<circle cx="439.3" cy="386.7" r="1.2"/>
<circle cx="440.1" cy="382.1" r="1.2"/>
<circle cx="441.5" cy="387.9" r="1.2"/>
<circle cx="443.4" cy="387.9" r="1.2"/>
<circle cx="445.1" cy="387.8" r="1.2"/>
<circle cx="445.6" cy="386.9" r="1.2"/>
<circle cx="447.3" cy="386.0" r="1.2"/>
<circle cx="448.0" cy="387.9" r="1.2"/>
<circle cx="450.6" cy="387.2" r="1.2"/>
<circle cx="451.3" cy="383.7" r="1.2"/>
<circle cx="452.1" cy="387.8" r="1.2"/>
<circle cx="454.0" cy="387.2" r="1.2"/>
<circle cx="455.9" cy="388.4" r="1.2"/>
<circle cx="456.1" cy="383.5" r="1.2"/>
<circle cx="457.6" cy="385.0" r="1.2"/>
<circle cx="459.0" cy="393.1" r="1.2"/>
<circle cx="460.2" cy="385.7" r="1.2"/>
<circle cx="462.2" cy="387.4" r="1.2"/>
<circle cx="463.4" cy="385.5" r="1.2"/>
<circle cx="464.1" cy="384.0" r="1.2"/>
<circle cx="466.2" cy="388.3" r="1.2"/>
<circle cx="467.7" cy="387.6" r="1.2"/>
<circle cx="469.1" cy="386.9" r="1.2"/>
<circle cx="470.1" cy="384.0" r="1.2"/>
<circle cx="471.8" cy="386.6" r="1.2"/>
<circle cx="472.7" cy="389.5" r="1.2"/>
<circle cx="473.7" cy="386.4" r="1.2"/>
<circle cx="475.3" cy="386.6" r="1.2"/>
<circle cx="476.5" cy="388.1" r="1.2"/>
<circle cx="477.5" cy="385.4" r="1.2"/>
<circle cx="479.7" cy="385.4" r="1.2"/>
<circle cx="480.1" cy="386.7" r="1.2"/>
<circle cx="482.0" cy="382.5" r="1.2"/>
<circle cx="483.7" cy="386.0" r="1.2"/>
<circle cx="484.5" cy="389.3" r="1.2"/>
<circle cx="485.7" cy="387.9" r="1.2"/>
<circle cx="487.3" cy="385.5" r="1.2"/>
<circle cx="489.1" cy="384.0" r="1.2"/>
<circle cx="489.7" cy="388.1" r="1.2"/>
<circle cx="491.7" cy="385.9" r="1.2"/>
<circle cx="493.3" cy="386.6" r="1.2"/>
<line x1="412.55" x2="495.5" y1="384.68" y2="384.68" stroke="#202870" stroke-opacity="0.5" stroke-width="1.2"/>
<line x1="412.55" x2="495.5" y1="386.59" y2="386.59" stroke="#a82020" stroke-opacity="0.5" stroke-width="1.2"/>
</g>
<rect x="412.55" y="333.5" width="82.95" height="110.00" fill="none" stroke="#5a5a5a" stroke-width="1.1"/>
<line x1="408.05" x2="412.55" y1="337.50" y2="337.50" stroke="#5a5a5a" stroke-width="1.1"/>
<text transform="translate(401.95,337.50) rotate(-90)" font-size="10.5" text-anchor="middle">4</text>
<line x1="408.05" x2="412.55" y1="363.00" y2="363.00" stroke="#5a5a5a" stroke-width="1.1"/>
<text transform="translate(401.95,363.00) rotate(-90)" font-size="10.5" text-anchor="middle">2</text>
<line x1="408.05" x2="412.55" y1="388.50" y2="388.50" stroke="#5a5a5a" stroke-width="1.1"/>
<text transform="translate(401.95,388.50) rotate(-90)" font-size="10.5" text-anchor="middle">0</text>
<line x1="408.05" x2="412.55" y1="414.00" y2="414.00" stroke="#5a5a5a" stroke-width="1.1"/>
<text transform="translate(401.95,414.00) rotate(-90)" font-size="10.5" text-anchor="middle">−2</text>
<line x1="408.05" x2="412.55" y1="439.50" y2="439.50" stroke="#5a5a5a" stroke-width="1.1"/>
<text transform="translate(401.95,439.50) rotate(-90)" font-size="10.5" text-anchor="middle">−4</text>
<line x1="415.10" x2="415.10" y1="443.5" y2="448.00" stroke="#5a5a5a" stroke-width="1.1"/>
<text x="415.10" y="460.70" font-size="10.5" text-anchor="middle">0</text>
<line x1="435.23" x2="435.23" y1="443.5" y2="448.00" stroke="#5a5a5a" stroke-width="1.1"/>
<text x="435.23" y="460.70" font-size="10.5" text-anchor="middle">50</text>
<line x1="455.36" x2="455.36" y1="443.5" y2="448.00" stroke="#5a5a5a" stroke-width="1.1"/>
<line x1="475.49" x2="475.49" y1="443.5" y2="448.00" stroke="#5a5a5a" stroke-width="1.1"/>
<text x="475.49" y="460.70" font-size="10.5" text-anchor="middle">150</text>
</svg></body></html>
